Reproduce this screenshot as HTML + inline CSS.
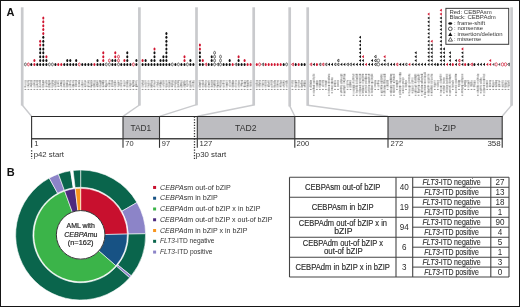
<!DOCTYPE html>
<html><head><meta charset="utf-8"><style>
html,body{margin:0;padding:0;background:#fff;}
svg{display:block;will-change:transform;}
text{font-family:"Liberation Sans",sans-serif;}
</style></head><body>
<svg width="520" height="307" viewBox="0 0 520 307" xmlns="http://www.w3.org/2000/svg">
<rect x="0" y="0" width="520" height="307" fill="#fff"/>
<line x1="22.2" y1="7.3" x2="22.2" y2="105.6" stroke="#c9cacd" stroke-width="2.7"/>
<line x1="22.2" y1="105.0" x2="31.5" y2="116.3" stroke="#c9cacd" stroke-width="1.4"/>
<line x1="139.4" y1="7.3" x2="139.4" y2="105.6" stroke="#c9cacd" stroke-width="2.7"/>
<line x1="139.4" y1="105.0" x2="123" y2="116.3" stroke="#c9cacd" stroke-width="1.4"/>
<line x1="196.5" y1="7.3" x2="196.5" y2="105.3" stroke="#c9cacd" stroke-width="2.7"/>
<line x1="196.5" y1="104.7" x2="159.5" y2="116.3" stroke="#c9cacd" stroke-width="1.4"/>
<line x1="253.7" y1="7.3" x2="253.7" y2="105.6" stroke="#c9cacd" stroke-width="2.7"/>
<line x1="253.7" y1="105.0" x2="197.5" y2="116.3" stroke="#c9cacd" stroke-width="1.4"/>
<line x1="289.7" y1="7.3" x2="289.7" y2="106.5" stroke="#c9cacd" stroke-width="2.7"/>
<line x1="289.7" y1="105.9" x2="294.8" y2="116.3" stroke="#c9cacd" stroke-width="1.4"/>
<line x1="307.7" y1="7.3" x2="307.7" y2="105.8" stroke="#c9cacd" stroke-width="2.7"/>
<line x1="307.7" y1="105.2" x2="388" y2="116.3" stroke="#c9cacd" stroke-width="1.4"/>
<line x1="511.6" y1="7.3" x2="511.6" y2="105.7" stroke="#c9cacd" stroke-width="2.7"/>
<line x1="511.6" y1="105.10000000000001" x2="502.2" y2="116.3" stroke="#c9cacd" stroke-width="1.4"/>
<ellipse cx="25.4" cy="64.40" rx="0.95" ry="1.45" fill="none" stroke="#444" stroke-width="0.75"/>
<ellipse cx="28.4" cy="64.40" rx="0.95" ry="1.45" fill="none" stroke="#d0142f" stroke-width="0.75"/>
<ellipse cx="31.3" cy="64.40" rx="1.02" ry="1.5" fill="#111"/>
<ellipse cx="34.4" cy="64.40" rx="1.02" ry="1.5" fill="#d0142f"/>
<ellipse cx="34.4" cy="60.53" rx="1.02" ry="1.5" fill="#d0142f"/>
<ellipse cx="37.3" cy="64.40" rx="1.02" ry="1.5" fill="#111"/>
<ellipse cx="40.2" cy="64.40" rx="1.02" ry="1.5" fill="#111"/>
<ellipse cx="40.2" cy="60.53" rx="1.02" ry="1.5" fill="#111"/>
<ellipse cx="40.2" cy="56.66" rx="1.02" ry="1.5" fill="#111"/>
<ellipse cx="40.2" cy="52.79" rx="1.02" ry="1.5" fill="#111"/>
<ellipse cx="40.2" cy="48.92" rx="1.02" ry="1.5" fill="#111"/>
<ellipse cx="40.2" cy="45.05" rx="1.02" ry="1.5" fill="#d0142f"/>
<ellipse cx="40.2" cy="41.18" rx="1.02" ry="1.5" fill="#d0142f"/>
<ellipse cx="43.3" cy="64.40" rx="1.02" ry="1.5" fill="#111"/>
<ellipse cx="43.3" cy="60.53" rx="1.02" ry="1.5" fill="#111"/>
<ellipse cx="43.3" cy="56.66" rx="1.02" ry="1.5" fill="#111"/>
<ellipse cx="43.3" cy="52.79" rx="1.02" ry="1.5" fill="#111"/>
<ellipse cx="43.3" cy="48.92" rx="1.02" ry="1.5" fill="#111"/>
<ellipse cx="43.3" cy="45.05" rx="1.02" ry="1.5" fill="#111"/>
<ellipse cx="43.3" cy="41.18" rx="1.02" ry="1.5" fill="#111"/>
<ellipse cx="43.3" cy="37.31" rx="1.02" ry="1.5" fill="#111"/>
<ellipse cx="43.3" cy="33.44" rx="1.02" ry="1.5" fill="#d0142f"/>
<ellipse cx="43.3" cy="29.57" rx="1.02" ry="1.5" fill="#d0142f"/>
<ellipse cx="43.3" cy="25.70" rx="1.02" ry="1.5" fill="#d0142f"/>
<ellipse cx="43.3" cy="21.83" rx="1.02" ry="1.5" fill="#d0142f"/>
<ellipse cx="43.3" cy="17.96" rx="1.02" ry="1.5" fill="#d0142f"/>
<ellipse cx="46.4" cy="64.40" rx="1.02" ry="1.5" fill="#111"/>
<ellipse cx="46.4" cy="60.53" rx="1.02" ry="1.5" fill="#111"/>
<ellipse cx="46.4" cy="56.66" rx="1.02" ry="1.5" fill="#d0142f"/>
<ellipse cx="49.4" cy="64.40" rx="0.95" ry="1.45" fill="none" stroke="#444" stroke-width="0.75"/>
<ellipse cx="52.4" cy="64.40" rx="0.95" ry="1.45" fill="none" stroke="#444" stroke-width="0.75"/>
<ellipse cx="55.4" cy="64.40" rx="1.02" ry="1.5" fill="#111"/>
<ellipse cx="58.3" cy="64.40" rx="1.02" ry="1.5" fill="#d0142f"/>
<ellipse cx="61.3" cy="64.40" rx="1.02" ry="1.5" fill="#d0142f"/>
<ellipse cx="64.3" cy="64.40" rx="1.02" ry="1.5" fill="#111"/>
<ellipse cx="67.3" cy="64.40" rx="1.02" ry="1.5" fill="#111"/>
<ellipse cx="67.3" cy="60.53" rx="1.02" ry="1.5" fill="#111"/>
<ellipse cx="70.3" cy="64.40" rx="1.02" ry="1.5" fill="#111"/>
<ellipse cx="70.3" cy="60.53" rx="1.02" ry="1.5" fill="#111"/>
<ellipse cx="73.3" cy="64.40" rx="1.02" ry="1.5" fill="#111"/>
<ellipse cx="76.2" cy="64.40" rx="1.02" ry="1.5" fill="#111"/>
<ellipse cx="76.2" cy="60.53" rx="1.02" ry="1.5" fill="#111"/>
<ellipse cx="79.3" cy="64.40" rx="0.95" ry="1.45" fill="none" stroke="#d0142f" stroke-width="0.75"/>
<ellipse cx="82.3" cy="64.40" rx="1.02" ry="1.5" fill="#111"/>
<ellipse cx="85.3" cy="64.40" rx="1.02" ry="1.5" fill="#111"/>
<ellipse cx="88.4" cy="64.40" rx="1.02" ry="1.5" fill="#111"/>
<ellipse cx="91.4" cy="64.40" rx="1.02" ry="1.5" fill="#111"/>
<ellipse cx="94.4" cy="64.40" rx="1.02" ry="1.5" fill="#d0142f"/>
<ellipse cx="97.5" cy="64.40" rx="1.02" ry="1.5" fill="#111"/>
<ellipse cx="97.5" cy="60.53" rx="1.02" ry="1.5" fill="#111"/>
<ellipse cx="100.4" cy="64.40" rx="1.02" ry="1.5" fill="#111"/>
<ellipse cx="103.3" cy="64.40" rx="1.02" ry="1.5" fill="#111"/>
<ellipse cx="103.3" cy="60.53" rx="1.02" ry="1.5" fill="#d0142f"/>
<ellipse cx="103.3" cy="56.66" rx="1.02" ry="1.5" fill="#d0142f"/>
<ellipse cx="103.3" cy="52.79" rx="1.02" ry="1.5" fill="#d0142f"/>
<ellipse cx="106.3" cy="64.40" rx="0.95" ry="1.45" fill="none" stroke="#444" stroke-width="0.75"/>
<ellipse cx="109.4" cy="64.40" rx="0.95" ry="1.45" fill="none" stroke="#444" stroke-width="0.75"/>
<ellipse cx="109.4" cy="60.53" rx="0.95" ry="1.45" fill="none" stroke="#d0142f" stroke-width="0.75"/>
<ellipse cx="112.4" cy="64.40" rx="1.02" ry="1.5" fill="#111"/>
<ellipse cx="112.4" cy="60.53" rx="1.02" ry="1.5" fill="#111"/>
<ellipse cx="115.3" cy="64.40" rx="1.02" ry="1.5" fill="#111"/>
<ellipse cx="115.3" cy="60.53" rx="1.02" ry="1.5" fill="#111"/>
<ellipse cx="115.3" cy="56.66" rx="1.02" ry="1.5" fill="#d0142f"/>
<ellipse cx="115.3" cy="52.79" rx="1.02" ry="1.5" fill="#d0142f"/>
<ellipse cx="118.5" cy="64.40" rx="0.95" ry="1.45" fill="none" stroke="#444" stroke-width="0.75"/>
<ellipse cx="118.5" cy="60.53" rx="0.95" ry="1.45" fill="none" stroke="#d0142f" stroke-width="0.75"/>
<ellipse cx="118.5" cy="56.66" rx="0.95" ry="1.45" fill="none" stroke="#d0142f" stroke-width="0.75"/>
<ellipse cx="121.3" cy="64.40" rx="1.02" ry="1.5" fill="#111"/>
<ellipse cx="124.4" cy="64.40" rx="1.02" ry="1.5" fill="#111"/>
<ellipse cx="124.4" cy="60.53" rx="1.02" ry="1.5" fill="#d0142f"/>
<ellipse cx="127.3" cy="64.40" rx="1.02" ry="1.5" fill="#111"/>
<ellipse cx="127.3" cy="60.53" rx="1.02" ry="1.5" fill="#111"/>
<ellipse cx="127.3" cy="56.66" rx="1.02" ry="1.5" fill="#111"/>
<ellipse cx="127.3" cy="52.79" rx="1.02" ry="1.5" fill="#111"/>
<ellipse cx="130.4" cy="64.40" rx="1.02" ry="1.5" fill="#111"/>
<ellipse cx="133.4" cy="64.40" rx="0.95" ry="1.45" fill="none" stroke="#d0142f" stroke-width="0.75"/>
<ellipse cx="136.4" cy="64.40" rx="1.02" ry="1.5" fill="#111"/>
<ellipse cx="136.4" cy="60.53" rx="1.02" ry="1.5" fill="#111"/>
<ellipse cx="142.6" cy="64.40" rx="1.02" ry="1.5" fill="#111"/>
<ellipse cx="142.6" cy="60.53" rx="1.02" ry="1.5" fill="#d0142f"/>
<ellipse cx="145.6" cy="64.40" rx="1.02" ry="1.5" fill="#111"/>
<ellipse cx="145.6" cy="60.53" rx="1.02" ry="1.5" fill="#111"/>
<ellipse cx="148.5" cy="64.40" rx="1.02" ry="1.5" fill="#111"/>
<ellipse cx="151.5" cy="64.40" rx="1.02" ry="1.5" fill="#111"/>
<ellipse cx="151.5" cy="60.53" rx="1.02" ry="1.5" fill="#111"/>
<ellipse cx="154.5" cy="64.40" rx="1.02" ry="1.5" fill="#111"/>
<ellipse cx="154.5" cy="60.53" rx="1.02" ry="1.5" fill="#111"/>
<ellipse cx="154.5" cy="56.66" rx="1.02" ry="1.5" fill="#111"/>
<ellipse cx="154.5" cy="52.79" rx="1.02" ry="1.5" fill="#111"/>
<ellipse cx="154.5" cy="48.92" rx="1.02" ry="1.5" fill="#d0142f"/>
<ellipse cx="157.6" cy="64.40" rx="1.02" ry="1.5" fill="#111"/>
<ellipse cx="160.5" cy="64.40" rx="1.02" ry="1.5" fill="#111"/>
<ellipse cx="160.5" cy="60.53" rx="1.02" ry="1.5" fill="#111"/>
<ellipse cx="163.4" cy="64.40" rx="1.02" ry="1.5" fill="#111"/>
<ellipse cx="163.4" cy="60.53" rx="1.02" ry="1.5" fill="#111"/>
<ellipse cx="163.4" cy="56.66" rx="1.02" ry="1.5" fill="#111"/>
<ellipse cx="166.4" cy="64.40" rx="1.02" ry="1.5" fill="#111"/>
<ellipse cx="166.4" cy="60.53" rx="1.02" ry="1.5" fill="#111"/>
<ellipse cx="166.4" cy="56.66" rx="1.02" ry="1.5" fill="#111"/>
<ellipse cx="166.4" cy="52.79" rx="1.02" ry="1.5" fill="#111"/>
<ellipse cx="166.4" cy="48.92" rx="1.02" ry="1.5" fill="#111"/>
<ellipse cx="166.4" cy="45.05" rx="1.02" ry="1.5" fill="#111"/>
<ellipse cx="166.4" cy="41.18" rx="1.02" ry="1.5" fill="#111"/>
<ellipse cx="166.4" cy="37.31" rx="1.02" ry="1.5" fill="#111"/>
<ellipse cx="166.4" cy="33.44" rx="1.02" ry="1.5" fill="#111"/>
<ellipse cx="169.4" cy="64.40" rx="1.02" ry="1.5" fill="#111"/>
<ellipse cx="172.3" cy="64.40" rx="0.95" ry="1.45" fill="none" stroke="#444" stroke-width="0.75"/>
<ellipse cx="175.4" cy="64.40" rx="1.02" ry="1.5" fill="#111"/>
<ellipse cx="178.4" cy="64.40" rx="0.95" ry="1.45" fill="none" stroke="#444" stroke-width="0.75"/>
<ellipse cx="181.4" cy="64.40" rx="1.02" ry="1.5" fill="#111"/>
<ellipse cx="184.5" cy="64.40" rx="1.02" ry="1.5" fill="#111"/>
<ellipse cx="184.5" cy="60.53" rx="1.02" ry="1.5" fill="#d0142f"/>
<ellipse cx="184.5" cy="56.66" rx="1.02" ry="1.5" fill="#d0142f"/>
<ellipse cx="187.4" cy="64.40" rx="0.95" ry="1.45" fill="none" stroke="#444" stroke-width="0.75"/>
<ellipse cx="190.4" cy="64.40" rx="1.02" ry="1.5" fill="#111"/>
<ellipse cx="190.4" cy="60.53" rx="1.02" ry="1.5" fill="#111"/>
<ellipse cx="193.4" cy="64.40" rx="1.02" ry="1.5" fill="#111"/>
<ellipse cx="199.9" cy="64.40" rx="1.02" ry="1.5" fill="#111"/>
<ellipse cx="199.9" cy="60.53" rx="1.02" ry="1.5" fill="#111"/>
<ellipse cx="199.9" cy="56.66" rx="1.02" ry="1.5" fill="#111"/>
<ellipse cx="199.9" cy="52.79" rx="1.02" ry="1.5" fill="#111"/>
<ellipse cx="199.9" cy="48.92" rx="1.02" ry="1.5" fill="#d0142f"/>
<ellipse cx="199.9" cy="45.05" rx="1.02" ry="1.5" fill="#d0142f"/>
<ellipse cx="202.8" cy="64.40" rx="1.02" ry="1.5" fill="#111"/>
<ellipse cx="202.8" cy="60.53" rx="1.02" ry="1.5" fill="#d0142f"/>
<path d="M204.70,64.40 L206.60,63.00 L206.60,65.80Z" fill="none" stroke="#d0142f" stroke-width="0.8"/>
<ellipse cx="208.7" cy="64.40" rx="1.02" ry="1.5" fill="#111"/>
<ellipse cx="211.7" cy="64.40" rx="1.02" ry="1.5" fill="#111"/>
<ellipse cx="211.7" cy="60.53" rx="1.02" ry="1.5" fill="#111"/>
<ellipse cx="211.7" cy="56.66" rx="1.02" ry="1.5" fill="#111"/>
<ellipse cx="214.6" cy="64.40" rx="0.95" ry="1.45" fill="none" stroke="#444" stroke-width="0.75"/>
<ellipse cx="214.6" cy="60.53" rx="0.95" ry="1.45" fill="none" stroke="#444" stroke-width="0.75"/>
<ellipse cx="214.6" cy="56.66" rx="0.95" ry="1.45" fill="none" stroke="#444" stroke-width="0.75"/>
<ellipse cx="214.6" cy="52.79" rx="0.95" ry="1.45" fill="none" stroke="#444" stroke-width="0.75"/>
<path d="M216.60,64.40 L218.50,63.00 L218.50,65.80Z" fill="none" stroke="#3a3a3a" stroke-width="0.8"/>
<ellipse cx="220.5" cy="64.40" rx="0.95" ry="1.45" fill="none" stroke="#444" stroke-width="0.75"/>
<ellipse cx="220.5" cy="60.53" rx="0.95" ry="1.45" fill="none" stroke="#444" stroke-width="0.75"/>
<ellipse cx="220.5" cy="56.66" rx="0.95" ry="1.45" fill="none" stroke="#444" stroke-width="0.75"/>
<ellipse cx="223.6" cy="64.40" rx="1.02" ry="1.5" fill="#111"/>
<ellipse cx="226.6" cy="64.40" rx="1.02" ry="1.5" fill="#111"/>
<ellipse cx="229.7" cy="64.40" rx="1.02" ry="1.5" fill="#111"/>
<ellipse cx="229.7" cy="60.53" rx="1.02" ry="1.5" fill="#111"/>
<ellipse cx="232.7" cy="64.40" rx="1.02" ry="1.5" fill="#d0142f"/>
<path d="M234.70,64.40 L236.60,63.00 L236.60,65.80Z" fill="none" stroke="#3a3a3a" stroke-width="0.8"/>
<ellipse cx="238.6" cy="64.40" rx="1.02" ry="1.5" fill="#111"/>
<ellipse cx="238.6" cy="60.53" rx="1.02" ry="1.5" fill="#111"/>
<ellipse cx="238.6" cy="56.66" rx="1.02" ry="1.5" fill="#d0142f"/>
<ellipse cx="241.6" cy="64.40" rx="1.02" ry="1.5" fill="#111"/>
<ellipse cx="244.6" cy="64.40" rx="1.02" ry="1.5" fill="#111"/>
<ellipse cx="244.6" cy="60.53" rx="1.02" ry="1.5" fill="#d0142f"/>
<ellipse cx="247.6" cy="64.40" rx="1.02" ry="1.5" fill="#d0142f"/>
<ellipse cx="250.6" cy="64.40" rx="1.02" ry="1.5" fill="#d0142f"/>
<ellipse cx="256.8" cy="64.40" rx="1.02" ry="1.5" fill="#d0142f"/>
<ellipse cx="259.6" cy="64.40" rx="0.95" ry="1.45" fill="none" stroke="#d0142f" stroke-width="0.75"/>
<path d="M261.70,64.40 L263.60,63.00 L263.60,65.80Z" fill="none" stroke="#3a3a3a" stroke-width="0.8"/>
<ellipse cx="265.7" cy="64.40" rx="1.02" ry="1.5" fill="#d0142f"/>
<ellipse cx="268.7" cy="64.40" rx="1.02" ry="1.5" fill="#d0142f"/>
<ellipse cx="271.7" cy="64.40" rx="1.02" ry="1.5" fill="#d0142f"/>
<ellipse cx="274.7" cy="64.40" rx="1.02" ry="1.5" fill="#d0142f"/>
<ellipse cx="277.7" cy="64.40" rx="1.02" ry="1.5" fill="#d0142f"/>
<ellipse cx="280.7" cy="64.40" rx="1.02" ry="1.5" fill="#d0142f"/>
<ellipse cx="283.7" cy="64.40" rx="1.02" ry="1.5" fill="#111"/>
<ellipse cx="286.6" cy="64.40" rx="0.95" ry="1.45" fill="none" stroke="#444" stroke-width="0.75"/>
<path d="M291.50,64.40 L293.40,63.00 L293.40,65.80Z" fill="none" stroke="#d0142f" stroke-width="0.8"/>
<ellipse cx="295.7" cy="64.40" rx="1.02" ry="1.5" fill="#111"/>
<ellipse cx="298.7" cy="64.40" rx="1.02" ry="1.5" fill="#d0142f"/>
<ellipse cx="301.7" cy="64.40" rx="1.02" ry="1.5" fill="#111"/>
<ellipse cx="304.6" cy="64.40" rx="1.02" ry="1.5" fill="#111"/>
<path d="M309.80,64.40 L311.70,63.00 L311.70,65.80Z" fill="none" stroke="#d0142f" stroke-width="0.8"/>
<path d="M312.65,64.40 L314.80,62.85 L314.80,65.95Z" fill="#111"/>
<ellipse cx="316.9" cy="64.40" rx="1.02" ry="1.5" fill="#d0142f"/>
<path d="M318.90,64.40 L320.80,63.00 L320.80,65.80Z" fill="none" stroke="#3a3a3a" stroke-width="0.8"/>
<path d="M321.90,64.40 L323.80,63.00 L323.80,65.80Z" fill="none" stroke="#d0142f" stroke-width="0.8"/>
<path d="M324.90,64.40 L326.80,63.00 L326.80,65.80Z" fill="none" stroke="#3a3a3a" stroke-width="0.8"/>
<path d="M327.85,64.40 L330.00,62.85 L330.00,65.95Z" fill="#111"/>
<path d="M330.85,64.40 L333.00,62.85 L333.00,65.95Z" fill="#111"/>
<path d="M334.00,64.40 L335.90,63.00 L335.90,65.80Z" fill="none" stroke="#3a3a3a" stroke-width="0.8"/>
<path d="M337.00,64.40 L338.90,63.00 L338.90,65.80Z" fill="none" stroke="#3a3a3a" stroke-width="0.8"/>
<path d="M337.00,60.53 L338.90,59.13 L338.90,61.93Z" fill="none" stroke="#3a3a3a" stroke-width="0.8"/>
<path d="M340.15,64.40 L342.30,62.85 L342.30,65.95Z" fill="#111"/>
<path d="M343.15,64.40 L345.30,62.85 L345.30,65.95Z" fill="#111"/>
<path d="M346.50,64.40 L348.40,63.00 L348.40,65.80Z" fill="none" stroke="#3a3a3a" stroke-width="0.8"/>
<path d="M349.50,64.40 L351.40,63.00 L351.40,65.80Z" fill="none" stroke="#3a3a3a" stroke-width="0.8"/>
<path d="M352.35,64.40 L354.50,62.85 L354.50,65.95Z" fill="#111"/>
<path d="M355.65,64.40 L357.80,62.85 L357.80,65.95Z" fill="#111"/>
<path d="M358.85,64.40 L361.00,62.85 L361.00,65.95Z" fill="#111"/>
<path d="M358.85,60.53 L361.00,58.98 L361.00,62.08Z" fill="#111"/>
<path d="M358.85,56.66 L361.00,55.11 L361.00,58.21Z" fill="#111"/>
<path d="M358.85,52.79 L361.00,51.24 L361.00,54.34Z" fill="#111"/>
<path d="M358.85,48.92 L361.00,47.37 L361.00,50.47Z" fill="#111"/>
<path d="M358.85,45.05 L361.00,43.50 L361.00,46.60Z" fill="#111"/>
<path d="M358.85,41.18 L361.00,39.63 L361.00,42.73Z" fill="#111"/>
<path d="M358.85,37.31 L361.00,35.76 L361.00,38.86Z" fill="#111"/>
<path d="M361.75,64.40 L363.90,62.85 L363.90,65.95Z" fill="#111"/>
<path d="M361.75,60.53 L363.90,58.98 L363.90,62.08Z" fill="#111"/>
<path d="M361.75,56.66 L363.90,55.11 L363.90,58.21Z" fill="#d0142f"/>
<path d="M364.75,64.40 L366.90,62.85 L366.90,65.95Z" fill="#d0142f"/>
<path d="M367.85,64.40 L370.00,62.85 L370.00,65.95Z" fill="#111"/>
<path d="M370.85,64.40 L373.00,62.85 L373.00,65.95Z" fill="#111"/>
<path d="M370.85,60.53 L373.00,58.98 L373.00,62.08Z" fill="#111"/>
<path d="M374.20,64.40 L376.10,63.00 L376.10,65.80Z" fill="none" stroke="#3a3a3a" stroke-width="0.8"/>
<path d="M374.20,60.53 L376.10,59.13 L376.10,61.93Z" fill="none" stroke="#3a3a3a" stroke-width="0.8"/>
<path d="M374.20,56.66 L376.10,55.26 L376.10,58.06Z" fill="none" stroke="#3a3a3a" stroke-width="0.8"/>
<ellipse cx="378.3" cy="64.40" rx="1.35" ry="1.55" fill="none" stroke="#444" stroke-width="0.7"/>
<ellipse cx="378.3" cy="60.53" rx="1.35" ry="1.55" fill="none" stroke="#444" stroke-width="0.7"/>
<path d="M380.45,64.40 L382.60,62.85 L382.60,65.95Z" fill="#111"/>
<path d="M383.35,64.40 L385.50,62.85 L385.50,65.95Z" fill="#111"/>
<path d="M383.35,60.53 L385.50,58.98 L385.50,62.08Z" fill="#111"/>
<path d="M383.35,56.66 L385.50,55.11 L385.50,58.21Z" fill="#d0142f"/>
<path d="M386.60,64.40 L388.50,63.00 L388.50,65.80Z" fill="none" stroke="#3a3a3a" stroke-width="0.8"/>
<path d="M389.85,64.40 L392.00,62.85 L392.00,65.95Z" fill="#111"/>
<path d="M392.75,64.40 L394.90,62.85 L394.90,65.95Z" fill="#111"/>
<path d="M395.90,64.40 L397.80,63.00 L397.80,65.80Z" fill="none" stroke="#d0142f" stroke-width="0.8"/>
<path d="M398.95,64.40 L401.10,62.85 L401.10,65.95Z" fill="#111"/>
<path d="M401.95,64.40 L404.10,62.85 L404.10,65.95Z" fill="#111"/>
<path d="M405.00,64.40 L406.90,63.00 L406.90,65.80Z" fill="none" stroke="#3a3a3a" stroke-width="0.8"/>
<path d="M408.15,64.40 L410.30,62.85 L410.30,65.95Z" fill="#d0142f"/>
<path d="M411.35,64.40 L413.50,62.85 L413.50,65.95Z" fill="#111"/>
<path d="M414.45,64.40 L416.60,62.85 L416.60,65.95Z" fill="#111"/>
<path d="M414.45,60.53 L416.60,58.98 L416.60,62.08Z" fill="#111"/>
<path d="M414.45,56.66 L416.60,55.11 L416.60,58.21Z" fill="#111"/>
<path d="M414.45,52.79 L416.60,51.24 L416.60,54.34Z" fill="#111"/>
<path d="M417.45,64.40 L419.60,62.85 L419.60,65.95Z" fill="#111"/>
<path d="M420.65,64.40 L422.80,62.85 L422.80,65.95Z" fill="#111"/>
<path d="M423.85,64.40 L426.00,62.85 L426.00,65.95Z" fill="#111"/>
<path d="M427.35,64.40 L429.50,62.85 L429.50,65.95Z" fill="#111"/>
<path d="M427.35,60.53 L429.50,58.98 L429.50,62.08Z" fill="#111"/>
<path d="M427.35,56.66 L429.50,55.11 L429.50,58.21Z" fill="#111"/>
<path d="M427.35,52.79 L429.50,51.24 L429.50,54.34Z" fill="#111"/>
<path d="M427.35,48.92 L429.50,47.37 L429.50,50.47Z" fill="#111"/>
<path d="M427.35,45.05 L429.50,43.50 L429.50,46.60Z" fill="#111"/>
<path d="M427.35,41.18 L429.50,39.63 L429.50,42.73Z" fill="#111"/>
<path d="M427.35,37.31 L429.50,35.76 L429.50,38.86Z" fill="#111"/>
<path d="M427.35,33.44 L429.50,31.89 L429.50,34.99Z" fill="#111"/>
<path d="M427.35,29.57 L429.50,28.02 L429.50,31.12Z" fill="#111"/>
<path d="M427.35,25.70 L429.50,24.15 L429.50,27.25Z" fill="#111"/>
<path d="M427.35,21.83 L429.50,20.28 L429.50,23.38Z" fill="#111"/>
<path d="M427.35,17.96 L429.50,16.41 L429.50,19.51Z" fill="#111"/>
<path d="M427.35,14.09 L429.50,12.54 L429.50,15.64Z" fill="#d0142f"/>
<path d="M430.45,64.40 L432.60,62.85 L432.60,65.95Z" fill="#111"/>
<path d="M430.45,60.53 L432.60,58.98 L432.60,62.08Z" fill="#111"/>
<path d="M430.45,56.66 L432.60,55.11 L432.60,58.21Z" fill="#111"/>
<path d="M430.45,52.79 L432.60,51.24 L432.60,54.34Z" fill="#111"/>
<path d="M430.45,48.92 L432.60,47.37 L432.60,50.47Z" fill="#111"/>
<path d="M430.45,45.05 L432.60,43.50 L432.60,46.60Z" fill="#111"/>
<path d="M430.45,41.18 L432.60,39.63 L432.60,42.73Z" fill="#d0142f"/>
<path d="M433.65,64.40 L435.80,62.85 L435.80,65.95Z" fill="#111"/>
<ellipse cx="437.8" cy="64.40" rx="1.02" ry="1.5" fill="#111"/>
<path d="M439.65,64.40 L441.80,62.85 L441.80,65.95Z" fill="#111"/>
<path d="M439.65,60.53 L441.80,58.98 L441.80,62.08Z" fill="#111"/>
<path d="M439.65,56.66 L441.80,55.11 L441.80,58.21Z" fill="#111"/>
<path d="M439.65,52.79 L441.80,51.24 L441.80,54.34Z" fill="#111"/>
<path d="M439.65,48.92 L441.80,47.37 L441.80,50.47Z" fill="#111"/>
<path d="M439.65,45.05 L441.80,43.50 L441.80,46.60Z" fill="#111"/>
<path d="M439.65,41.18 L441.80,39.63 L441.80,42.73Z" fill="#111"/>
<path d="M439.65,37.31 L441.80,35.76 L441.80,38.86Z" fill="#111"/>
<path d="M439.65,33.44 L441.80,31.89 L441.80,34.99Z" fill="#111"/>
<path d="M439.65,29.57 L441.80,28.02 L441.80,31.12Z" fill="#111"/>
<path d="M439.65,25.70 L441.80,24.15 L441.80,27.25Z" fill="#111"/>
<path d="M439.65,21.83 L441.80,20.28 L441.80,23.38Z" fill="#111"/>
<path d="M439.65,17.96 L441.80,16.41 L441.80,19.51Z" fill="#111"/>
<path d="M439.65,14.09 L441.80,12.54 L441.80,15.64Z" fill="#d0142f"/>
<path d="M439.65,10.22 L441.80,8.67 L441.80,11.77Z" fill="#d0142f"/>
<path d="M442.75,64.40 L444.90,62.85 L444.90,65.95Z" fill="#111"/>
<path d="M442.75,60.53 L444.90,58.98 L444.90,62.08Z" fill="#111"/>
<path d="M442.75,56.66 L444.90,55.11 L444.90,58.21Z" fill="#111"/>
<path d="M442.75,52.79 L444.90,51.24 L444.90,54.34Z" fill="#111"/>
<path d="M442.75,48.92 L444.90,47.37 L444.90,50.47Z" fill="#111"/>
<path d="M445.85,64.40 L448.00,62.85 L448.00,65.95Z" fill="#d0142f"/>
<path d="M448.75,64.40 L450.90,62.85 L450.90,65.95Z" fill="#111"/>
<path d="M448.75,60.53 L450.90,58.98 L450.90,62.08Z" fill="#111"/>
<path d="M448.75,56.66 L450.90,55.11 L450.90,58.21Z" fill="#111"/>
<path d="M448.75,52.79 L450.90,51.24 L450.90,54.34Z" fill="#111"/>
<ellipse cx="452.8" cy="64.40" rx="1.02" ry="1.5" fill="#d0142f"/>
<path d="M454.75,64.40 L456.90,62.85 L456.90,65.95Z" fill="#111"/>
<path d="M454.75,60.53 L456.90,58.98 L456.90,62.08Z" fill="#111"/>
<path d="M458.00,64.40 L459.90,63.00 L459.90,65.80Z" fill="none" stroke="#d0142f" stroke-width="0.8"/>
<path d="M458.00,60.53 L459.90,59.13 L459.90,61.93Z" fill="none" stroke="#d0142f" stroke-width="0.8"/>
<path d="M461.15,64.40 L463.30,62.85 L463.30,65.95Z" fill="#111"/>
<path d="M461.15,60.53 L463.30,58.98 L463.30,62.08Z" fill="#111"/>
<path d="M461.15,56.66 L463.30,55.11 L463.30,58.21Z" fill="#111"/>
<path d="M461.15,52.79 L463.30,51.24 L463.30,54.34Z" fill="#111"/>
<path d="M461.15,48.92 L463.30,47.37 L463.30,50.47Z" fill="#d0142f"/>
<ellipse cx="465.2" cy="64.40" rx="1.02" ry="1.5" fill="#d0142f"/>
<ellipse cx="468.4" cy="64.40" rx="1.02" ry="1.5" fill="#111"/>
<path d="M470.50,64.40 L472.40,63.00 L472.40,65.80Z" fill="none" stroke="#d0142f" stroke-width="0.8"/>
<ellipse cx="474.4" cy="64.40" rx="1.02" ry="1.5" fill="#111"/>
<path d="M476.75,64.40 L478.90,62.85 L478.90,65.95Z" fill="#111"/>
<path d="M479.65,64.40 L481.80,62.85 L481.80,65.95Z" fill="#111"/>
<path d="M482.85,64.40 L485.00,62.85 L485.00,65.95Z" fill="#111"/>
<path d="M486.05,64.40 L488.20,62.85 L488.20,65.95Z" fill="#d0142f"/>
<path d="M488.95,64.40 L491.10,62.85 L491.10,65.95Z" fill="#d0142f"/>
<path d="M488.95,60.53 L491.10,58.98 L491.10,62.08Z" fill="#d0142f"/>
<path d="M492.15,64.40 L494.30,62.85 L494.30,65.95Z" fill="#555"/>
<ellipse cx="496.2" cy="64.40" rx="1.15" ry="1.7" fill="none" stroke="#d0142f" stroke-opacity="0.8" stroke-width="0.8"/>
<path d="M498.05,64.40 L500.20,62.85 L500.20,65.95Z" fill="#555"/>
<ellipse cx="502.5" cy="64.40" rx="1.15" ry="1.7" fill="none" stroke="#d0142f" stroke-opacity="0.8" stroke-width="0.8"/>
<ellipse cx="505.5" cy="64.40" rx="1.15" ry="1.7" fill="none" stroke="#d0142f" stroke-opacity="0.8" stroke-width="0.8"/>
<path d="M507.50,64.40 L509.40,63.00 L509.40,65.80Z" fill="none" stroke="#3a3a3a" stroke-width="0.8"/>
<rect x="24.52" y="80.20" width="2.16" height="1.20" fill="#959595" fill-opacity="0.75"/><rect x="24.52" y="81.55" width="2.16" height="0.80" fill="#959595" fill-opacity="0.6"/><rect x="24.44" y="82.50" width="1.92" height="1.00" fill="#959595" fill-opacity="0.6"/><rect x="24.64" y="83.75" width="1.92" height="0.80" fill="#959595" fill-opacity="0.75"/><rect x="24.64" y="84.80" width="1.92" height="0.80" fill="#959595" fill-opacity="0.6"/><rect x="24.24" y="85.95" width="1.92" height="0.80" fill="#959595" fill-opacity="1.0"/><rect x="24.12" y="86.90" width="2.16" height="0.50" fill="#959595" fill-opacity="0.9"/>
<rect x="24.55" y="88.90" width="1.7" height="1.1" fill="#9a9a9a"/>
<rect x="27.40" y="80.20" width="2.40" height="0.80" fill="#959595" fill-opacity="0.9"/><rect x="27.12" y="81.15" width="2.16" height="0.80" fill="#959595" fill-opacity="0.75"/><rect x="27.00" y="82.30" width="2.40" height="0.80" fill="#959595" fill-opacity="0.6"/><rect x="27.52" y="83.35" width="2.16" height="1.40" fill="#959595" fill-opacity="0.9"/><rect x="27.24" y="85.00" width="1.92" height="1.20" fill="#959595" fill-opacity="0.9"/><rect x="27.20" y="86.55" width="2.40" height="0.85" fill="#959595" fill-opacity="0.6"/>
<rect x="27.55" y="88.90" width="1.7" height="1.1" fill="#9a9a9a"/>
<rect x="30.10" y="80.20" width="2.40" height="1.40" fill="#959595" fill-opacity="0.9"/><rect x="30.10" y="81.85" width="2.40" height="0.80" fill="#959595" fill-opacity="0.6"/><rect x="30.22" y="82.80" width="2.16" height="1.20" fill="#959595" fill-opacity="0.75"/><rect x="30.42" y="84.15" width="2.16" height="0.80" fill="#959595" fill-opacity="0.9"/><rect x="30.14" y="85.20" width="1.92" height="1.40" fill="#959595" fill-opacity="1.0"/><rect x="30.54" y="86.85" width="1.92" height="0.55" fill="#959595" fill-opacity="0.6"/>
<rect x="30.45" y="88.90" width="1.7" height="1.1" fill="#9a9a9a"/>
<rect x="33.52" y="80.20" width="2.16" height="1.20" fill="#959595" fill-opacity="1.0"/><rect x="33.32" y="81.65" width="2.16" height="1.20" fill="#959595" fill-opacity="0.6"/><rect x="33.24" y="83.00" width="1.92" height="0.80" fill="#959595" fill-opacity="1.0"/><rect x="33.32" y="84.05" width="2.16" height="1.00" fill="#959595" fill-opacity="0.75"/><rect x="33.32" y="85.30" width="2.16" height="0.80" fill="#959595" fill-opacity="0.75"/><rect x="33.52" y="86.45" width="2.16" height="0.95" fill="#959595" fill-opacity="0.75"/>
<rect x="33.55" y="88.90" width="1.7" height="1.1" fill="#9a9a9a"/>
<rect x="36.10" y="80.20" width="2.40" height="1.40" fill="#959595" fill-opacity="0.9"/><rect x="36.14" y="81.75" width="1.92" height="1.00" fill="#959595" fill-opacity="0.6"/><rect x="36.42" y="82.90" width="2.16" height="1.00" fill="#959595" fill-opacity="0.6"/><rect x="36.14" y="84.05" width="1.92" height="1.20" fill="#959595" fill-opacity="0.9"/><rect x="36.54" y="85.50" width="1.92" height="1.20" fill="#959595" fill-opacity="0.9"/><rect x="36.30" y="87.05" width="2.40" height="0.35" fill="#959595" fill-opacity="1.0"/>
<rect x="36.45" y="88.90" width="1.7" height="1.1" fill="#9a9a9a"/>
<rect x="38.92" y="80.20" width="2.16" height="1.40" fill="#959595" fill-opacity="1.0"/><rect x="39.04" y="81.85" width="1.92" height="1.40" fill="#959595" fill-opacity="0.6"/><rect x="39.24" y="83.40" width="1.92" height="1.40" fill="#959595" fill-opacity="0.75"/><rect x="39.44" y="85.15" width="1.92" height="0.80" fill="#959595" fill-opacity="0.6"/><rect x="38.80" y="86.10" width="2.40" height="0.80" fill="#959595" fill-opacity="0.9"/><rect x="39.44" y="87.05" width="1.92" height="0.35" fill="#959595" fill-opacity="1.0"/>
<rect x="39.35" y="88.90" width="1.7" height="1.1" fill="#9a9a9a"/>
<rect x="42.02" y="80.20" width="2.16" height="1.20" fill="#959595" fill-opacity="0.9"/><rect x="42.22" y="81.55" width="2.16" height="1.40" fill="#959595" fill-opacity="1.0"/><rect x="42.54" y="83.20" width="1.92" height="0.80" fill="#959595" fill-opacity="0.75"/><rect x="41.90" y="84.25" width="2.40" height="1.20" fill="#959595" fill-opacity="1.0"/><rect x="42.10" y="85.80" width="2.40" height="0.80" fill="#959595" fill-opacity="0.75"/><rect x="41.90" y="86.75" width="2.40" height="0.65" fill="#959595" fill-opacity="0.9"/>
<rect x="42.45" y="88.90" width="1.7" height="1.1" fill="#9a9a9a"/>
<rect x="45.44" y="80.20" width="1.92" height="1.20" fill="#959595" fill-opacity="0.9"/><rect x="45.00" y="81.55" width="2.40" height="1.20" fill="#959595" fill-opacity="0.75"/><rect x="45.64" y="82.90" width="1.92" height="1.40" fill="#959595" fill-opacity="0.75"/><rect x="45.44" y="84.55" width="1.92" height="1.20" fill="#959595" fill-opacity="0.6"/><rect x="45.40" y="86.00" width="2.40" height="1.20" fill="#959595" fill-opacity="0.75"/>
<rect x="45.55" y="88.90" width="1.7" height="1.1" fill="#9a9a9a"/>
<rect x="48.12" y="80.20" width="2.16" height="1.40" fill="#959595" fill-opacity="0.9"/><rect x="48.12" y="81.75" width="2.16" height="0.80" fill="#959595" fill-opacity="0.75"/><rect x="48.40" y="82.80" width="2.40" height="1.00" fill="#959595" fill-opacity="1.0"/><rect x="48.00" y="83.95" width="2.40" height="1.40" fill="#959595" fill-opacity="0.9"/><rect x="48.00" y="85.70" width="2.40" height="0.80" fill="#959595" fill-opacity="1.0"/><rect x="48.20" y="86.75" width="2.40" height="0.65" fill="#959595" fill-opacity="1.0"/>
<rect x="48.55" y="88.90" width="1.7" height="1.1" fill="#9a9a9a"/>
<rect x="51.52" y="80.20" width="2.16" height="1.40" fill="#959595" fill-opacity="1.0"/><rect x="51.24" y="81.75" width="1.92" height="1.00" fill="#959595" fill-opacity="0.75"/><rect x="51.40" y="82.90" width="2.40" height="1.40" fill="#959595" fill-opacity="0.75"/><rect x="51.40" y="84.55" width="2.40" height="1.20" fill="#959595" fill-opacity="0.75"/><rect x="51.40" y="85.90" width="2.40" height="0.80" fill="#959595" fill-opacity="0.6"/><rect x="51.24" y="86.85" width="1.92" height="0.55" fill="#959595" fill-opacity="1.0"/>
<rect x="51.55" y="88.90" width="1.7" height="1.1" fill="#9a9a9a"/>
<rect x="54.52" y="80.20" width="2.16" height="1.20" fill="#959595" fill-opacity="0.75"/><rect x="54.20" y="81.55" width="2.40" height="1.20" fill="#959595" fill-opacity="0.9"/><rect x="54.52" y="82.90" width="2.16" height="0.80" fill="#959595" fill-opacity="0.9"/><rect x="54.00" y="84.05" width="2.40" height="1.40" fill="#959595" fill-opacity="0.75"/><rect x="54.64" y="85.80" width="1.92" height="0.80" fill="#959595" fill-opacity="1.0"/><rect x="54.44" y="86.75" width="1.92" height="0.65" fill="#959595" fill-opacity="0.75"/>
<rect x="54.55" y="88.90" width="1.7" height="1.1" fill="#9a9a9a"/>
<rect x="57.42" y="80.20" width="2.16" height="0.80" fill="#959595" fill-opacity="0.6"/><rect x="56.90" y="81.35" width="2.40" height="1.40" fill="#959595" fill-opacity="0.6"/><rect x="57.14" y="82.90" width="1.92" height="1.00" fill="#959595" fill-opacity="0.9"/><rect x="57.34" y="84.25" width="1.92" height="1.40" fill="#959595" fill-opacity="0.6"/><rect x="57.42" y="85.90" width="2.16" height="1.00" fill="#959595" fill-opacity="0.9"/>
<rect x="57.45" y="88.90" width="1.7" height="1.1" fill="#9a9a9a"/>
<rect x="60.30" y="80.20" width="2.40" height="1.40" fill="#959595" fill-opacity="0.75"/><rect x="60.34" y="81.85" width="1.92" height="1.00" fill="#959595" fill-opacity="1.0"/><rect x="60.02" y="83.00" width="2.16" height="1.40" fill="#959595" fill-opacity="1.0"/><rect x="60.14" y="84.75" width="1.92" height="1.00" fill="#959595" fill-opacity="1.0"/><rect x="60.54" y="86.10" width="1.92" height="1.20" fill="#959595" fill-opacity="0.6"/>
<rect x="60.45" y="88.90" width="1.7" height="1.1" fill="#9a9a9a"/>
<rect x="63.02" y="80.20" width="2.16" height="1.20" fill="#959595" fill-opacity="0.75"/><rect x="63.22" y="81.65" width="2.16" height="1.00" fill="#959595" fill-opacity="0.6"/><rect x="63.10" y="82.80" width="2.40" height="1.00" fill="#959595" fill-opacity="0.75"/><rect x="63.02" y="84.15" width="2.16" height="1.40" fill="#959595" fill-opacity="0.9"/><rect x="63.10" y="85.80" width="2.40" height="1.20" fill="#959595" fill-opacity="0.6"/><rect x="63.42" y="87.15" width="2.16" height="0.25" fill="#959595" fill-opacity="1.0"/>
<rect x="63.45" y="88.90" width="1.7" height="1.1" fill="#9a9a9a"/>
<rect x="66.30" y="80.20" width="2.40" height="1.40" fill="#959595" fill-opacity="0.9"/><rect x="66.14" y="81.85" width="1.92" height="0.80" fill="#959595" fill-opacity="0.6"/><rect x="66.14" y="82.80" width="1.92" height="1.20" fill="#959595" fill-opacity="0.9"/><rect x="66.10" y="84.25" width="2.40" height="1.00" fill="#959595" fill-opacity="1.0"/><rect x="66.10" y="85.50" width="2.40" height="1.00" fill="#959595" fill-opacity="1.0"/><rect x="65.90" y="86.65" width="2.40" height="0.75" fill="#959595" fill-opacity="0.6"/>
<rect x="66.45" y="88.90" width="1.7" height="1.1" fill="#9a9a9a"/>
<rect x="69.54" y="80.20" width="1.92" height="0.80" fill="#959595" fill-opacity="0.9"/><rect x="68.90" y="81.15" width="2.40" height="1.20" fill="#959595" fill-opacity="0.6"/><rect x="69.02" y="82.50" width="2.16" height="1.20" fill="#959595" fill-opacity="0.6"/><rect x="68.90" y="83.95" width="2.40" height="1.40" fill="#959595" fill-opacity="0.9"/><rect x="69.34" y="85.50" width="1.92" height="1.00" fill="#959595" fill-opacity="0.6"/><rect x="69.42" y="86.65" width="2.16" height="0.75" fill="#959595" fill-opacity="0.75"/>
<rect x="69.45" y="88.90" width="1.7" height="1.1" fill="#9a9a9a"/>
<rect x="72.42" y="80.20" width="2.16" height="1.00" fill="#959595" fill-opacity="0.9"/><rect x="72.02" y="81.55" width="2.16" height="1.00" fill="#959595" fill-opacity="0.9"/><rect x="72.54" y="82.80" width="1.92" height="0.80" fill="#959595" fill-opacity="0.6"/><rect x="72.34" y="83.95" width="1.92" height="1.00" fill="#959595" fill-opacity="1.0"/><rect x="72.10" y="85.10" width="2.40" height="1.40" fill="#959595" fill-opacity="1.0"/><rect x="72.34" y="86.85" width="1.92" height="0.55" fill="#959595" fill-opacity="0.75"/>
<rect x="72.45" y="88.90" width="1.7" height="1.1" fill="#9a9a9a"/>
<rect x="74.92" y="80.20" width="2.16" height="1.00" fill="#959595" fill-opacity="1.0"/><rect x="75.20" y="81.35" width="2.40" height="0.80" fill="#959595" fill-opacity="0.6"/><rect x="75.04" y="82.40" width="1.92" height="1.40" fill="#959595" fill-opacity="0.75"/><rect x="74.80" y="84.15" width="2.40" height="1.40" fill="#959595" fill-opacity="0.9"/><rect x="74.92" y="85.90" width="2.16" height="1.20" fill="#959595" fill-opacity="0.6"/>
<rect x="75.35" y="88.90" width="1.7" height="1.1" fill="#9a9a9a"/>
<rect x="78.34" y="80.20" width="1.92" height="1.20" fill="#959595" fill-opacity="1.0"/><rect x="78.14" y="81.65" width="1.92" height="1.20" fill="#959595" fill-opacity="0.9"/><rect x="78.14" y="83.10" width="1.92" height="1.00" fill="#959595" fill-opacity="0.9"/><rect x="78.22" y="84.35" width="2.16" height="1.40" fill="#959595" fill-opacity="0.6"/><rect x="77.90" y="86.10" width="2.40" height="1.00" fill="#959595" fill-opacity="0.75"/>
<rect x="78.45" y="88.90" width="1.7" height="1.1" fill="#9a9a9a"/>
<rect x="81.34" y="80.20" width="1.92" height="1.20" fill="#959595" fill-opacity="0.6"/><rect x="81.34" y="81.75" width="1.92" height="0.80" fill="#959595" fill-opacity="1.0"/><rect x="81.30" y="82.80" width="2.40" height="1.00" fill="#959595" fill-opacity="0.6"/><rect x="81.10" y="83.95" width="2.40" height="1.40" fill="#959595" fill-opacity="0.9"/><rect x="81.54" y="85.50" width="1.92" height="1.20" fill="#959595" fill-opacity="0.75"/><rect x="81.30" y="87.05" width="2.40" height="0.35" fill="#959595" fill-opacity="0.75"/>
<rect x="81.45" y="88.90" width="1.7" height="1.1" fill="#9a9a9a"/>
<rect x="84.14" y="80.20" width="1.92" height="0.80" fill="#959595" fill-opacity="0.75"/><rect x="84.34" y="81.15" width="1.92" height="1.00" fill="#959595" fill-opacity="0.9"/><rect x="84.30" y="82.40" width="2.40" height="0.80" fill="#959595" fill-opacity="0.6"/><rect x="84.02" y="83.55" width="2.16" height="1.00" fill="#959595" fill-opacity="1.0"/><rect x="84.30" y="84.80" width="2.40" height="0.80" fill="#959595" fill-opacity="0.6"/><rect x="84.34" y="85.75" width="1.92" height="1.40" fill="#959595" fill-opacity="0.9"/>
<rect x="84.45" y="88.90" width="1.7" height="1.1" fill="#9a9a9a"/>
<rect x="87.40" y="80.20" width="2.40" height="1.00" fill="#959595" fill-opacity="0.75"/><rect x="87.44" y="81.45" width="1.92" height="1.40" fill="#959595" fill-opacity="1.0"/><rect x="87.40" y="83.20" width="2.40" height="1.20" fill="#959595" fill-opacity="0.6"/><rect x="87.00" y="84.75" width="2.40" height="1.00" fill="#959595" fill-opacity="0.6"/><rect x="87.40" y="86.00" width="2.40" height="1.20" fill="#959595" fill-opacity="0.9"/>
<rect x="87.55" y="88.90" width="1.7" height="1.1" fill="#9a9a9a"/>
<rect x="90.44" y="80.20" width="1.92" height="0.80" fill="#959595" fill-opacity="1.0"/><rect x="90.20" y="81.25" width="2.40" height="0.80" fill="#959595" fill-opacity="0.75"/><rect x="90.32" y="82.30" width="2.16" height="1.20" fill="#959595" fill-opacity="1.0"/><rect x="90.44" y="83.65" width="1.92" height="1.00" fill="#959595" fill-opacity="0.9"/><rect x="90.64" y="84.80" width="1.92" height="1.20" fill="#959595" fill-opacity="1.0"/><rect x="90.24" y="86.25" width="1.92" height="1.15" fill="#959595" fill-opacity="1.0"/>
<rect x="90.55" y="88.90" width="1.7" height="1.1" fill="#9a9a9a"/>
<rect x="93.40" y="80.20" width="2.40" height="0.80" fill="#959595" fill-opacity="0.75"/><rect x="93.40" y="81.25" width="2.40" height="1.20" fill="#959595" fill-opacity="0.75"/><rect x="93.20" y="82.80" width="2.40" height="1.20" fill="#959595" fill-opacity="0.6"/><rect x="93.12" y="84.15" width="2.16" height="1.40" fill="#959595" fill-opacity="1.0"/><rect x="93.20" y="85.70" width="2.40" height="0.80" fill="#959595" fill-opacity="1.0"/><rect x="93.32" y="86.75" width="2.16" height="0.65" fill="#959595" fill-opacity="0.75"/>
<rect x="93.55" y="88.90" width="1.7" height="1.1" fill="#9a9a9a"/>
<rect x="96.22" y="80.20" width="2.16" height="1.20" fill="#959595" fill-opacity="0.6"/><rect x="96.34" y="81.65" width="1.92" height="1.20" fill="#959595" fill-opacity="1.0"/><rect x="96.42" y="83.20" width="2.16" height="0.80" fill="#959595" fill-opacity="0.9"/><rect x="96.10" y="84.15" width="2.40" height="1.40" fill="#959595" fill-opacity="1.0"/><rect x="96.54" y="85.80" width="1.92" height="1.40" fill="#959595" fill-opacity="0.9"/>
<rect x="96.65" y="88.90" width="1.7" height="1.1" fill="#9a9a9a"/>
<rect x="99.00" y="80.20" width="2.40" height="0.80" fill="#959595" fill-opacity="0.9"/><rect x="99.20" y="81.15" width="2.40" height="1.20" fill="#959595" fill-opacity="1.0"/><rect x="99.64" y="82.50" width="1.92" height="1.20" fill="#959595" fill-opacity="1.0"/><rect x="99.64" y="83.95" width="1.92" height="1.00" fill="#959595" fill-opacity="0.6"/><rect x="99.20" y="85.20" width="2.40" height="1.40" fill="#959595" fill-opacity="0.75"/><rect x="99.44" y="86.85" width="1.92" height="0.55" fill="#959595" fill-opacity="0.75"/>
<rect x="99.55" y="88.90" width="1.7" height="1.1" fill="#9a9a9a"/>
<rect x="102.22" y="80.20" width="2.16" height="1.20" fill="#959595" fill-opacity="0.9"/><rect x="101.90" y="81.75" width="2.40" height="1.20" fill="#959595" fill-opacity="1.0"/><rect x="102.14" y="83.20" width="1.92" height="1.40" fill="#959595" fill-opacity="1.0"/><rect x="102.54" y="84.95" width="1.92" height="1.00" fill="#959595" fill-opacity="0.6"/><rect x="102.22" y="86.20" width="2.16" height="1.00" fill="#959595" fill-opacity="1.0"/>
<rect x="102.45" y="88.90" width="1.7" height="1.1" fill="#9a9a9a"/>
<rect x="105.14" y="80.20" width="1.92" height="1.00" fill="#959595" fill-opacity="0.75"/><rect x="105.02" y="81.35" width="2.16" height="1.20" fill="#959595" fill-opacity="0.6"/><rect x="105.54" y="82.80" width="1.92" height="1.20" fill="#959595" fill-opacity="0.75"/><rect x="105.30" y="84.25" width="2.40" height="1.40" fill="#959595" fill-opacity="1.0"/><rect x="105.02" y="85.80" width="2.16" height="1.40" fill="#959595" fill-opacity="0.9"/>
<rect x="105.45" y="88.90" width="1.7" height="1.1" fill="#9a9a9a"/>
<rect x="108.64" y="80.20" width="1.92" height="1.20" fill="#959595" fill-opacity="0.9"/><rect x="108.12" y="81.75" width="2.16" height="1.00" fill="#959595" fill-opacity="0.6"/><rect x="108.32" y="83.00" width="2.16" height="1.40" fill="#959595" fill-opacity="1.0"/><rect x="108.52" y="84.55" width="2.16" height="1.00" fill="#959595" fill-opacity="0.6"/><rect x="108.44" y="85.80" width="1.92" height="1.40" fill="#959595" fill-opacity="0.6"/>
<rect x="108.55" y="88.90" width="1.7" height="1.1" fill="#9a9a9a"/>
<rect x="111.24" y="80.20" width="1.92" height="1.40" fill="#959595" fill-opacity="1.0"/><rect x="111.40" y="81.75" width="2.40" height="1.00" fill="#959595" fill-opacity="0.75"/><rect x="111.00" y="82.90" width="2.40" height="1.40" fill="#959595" fill-opacity="0.6"/><rect x="111.00" y="84.45" width="2.40" height="1.00" fill="#959595" fill-opacity="0.75"/><rect x="111.20" y="85.80" width="2.40" height="1.20" fill="#959595" fill-opacity="0.75"/>
<rect x="111.55" y="88.90" width="1.7" height="1.1" fill="#9a9a9a"/>
<rect x="114.14" y="80.20" width="1.92" height="1.40" fill="#959595" fill-opacity="0.6"/><rect x="114.02" y="81.85" width="2.16" height="1.00" fill="#959595" fill-opacity="1.0"/><rect x="114.10" y="83.20" width="2.40" height="0.80" fill="#959595" fill-opacity="0.6"/><rect x="113.90" y="84.25" width="2.40" height="1.20" fill="#959595" fill-opacity="0.9"/><rect x="114.34" y="85.70" width="1.92" height="1.00" fill="#959595" fill-opacity="0.75"/><rect x="114.14" y="87.05" width="1.92" height="0.35" fill="#959595" fill-opacity="0.6"/>
<rect x="114.45" y="88.90" width="1.7" height="1.1" fill="#9a9a9a"/>
<rect x="117.22" y="80.20" width="2.16" height="1.40" fill="#959595" fill-opacity="0.6"/><rect x="117.54" y="81.95" width="1.92" height="1.40" fill="#959595" fill-opacity="0.9"/><rect x="117.62" y="83.50" width="2.16" height="1.20" fill="#959595" fill-opacity="1.0"/><rect x="117.62" y="84.95" width="2.16" height="1.00" fill="#959595" fill-opacity="0.6"/><rect x="117.22" y="86.30" width="2.16" height="0.80" fill="#959595" fill-opacity="0.75"/>
<rect x="117.65" y="88.90" width="1.7" height="1.1" fill="#9a9a9a"/>
<rect x="120.02" y="80.20" width="2.16" height="1.00" fill="#959595" fill-opacity="0.75"/><rect x="120.10" y="81.45" width="2.40" height="1.20" fill="#959595" fill-opacity="0.6"/><rect x="120.22" y="83.00" width="2.16" height="1.00" fill="#959595" fill-opacity="0.75"/><rect x="120.02" y="84.35" width="2.16" height="0.80" fill="#959595" fill-opacity="0.75"/><rect x="120.02" y="85.30" width="2.16" height="0.80" fill="#959595" fill-opacity="0.75"/><rect x="120.22" y="86.45" width="2.16" height="0.80" fill="#959595" fill-opacity="0.75"/>
<rect x="120.45" y="88.90" width="1.7" height="1.1" fill="#9a9a9a"/>
<rect x="123.24" y="80.20" width="1.92" height="1.20" fill="#959595" fill-opacity="0.6"/><rect x="123.40" y="81.65" width="2.40" height="1.00" fill="#959595" fill-opacity="0.75"/><rect x="123.52" y="83.00" width="2.16" height="1.40" fill="#959595" fill-opacity="0.6"/><rect x="123.32" y="84.75" width="2.16" height="1.40" fill="#959595" fill-opacity="0.9"/><rect x="123.44" y="86.30" width="1.92" height="0.80" fill="#959595" fill-opacity="0.6"/>
<rect x="123.55" y="88.90" width="1.7" height="1.1" fill="#9a9a9a"/>
<rect x="126.54" y="80.20" width="1.92" height="1.20" fill="#959595" fill-opacity="1.0"/><rect x="126.22" y="81.55" width="2.16" height="1.40" fill="#959595" fill-opacity="0.9"/><rect x="126.34" y="83.10" width="1.92" height="0.80" fill="#959595" fill-opacity="1.0"/><rect x="126.22" y="84.25" width="2.16" height="1.40" fill="#959595" fill-opacity="0.75"/><rect x="126.10" y="86.00" width="2.40" height="1.40" fill="#959595" fill-opacity="0.6"/>
<rect x="126.45" y="88.90" width="1.7" height="1.1" fill="#9a9a9a"/>
<rect x="129.12" y="80.20" width="2.16" height="1.40" fill="#959595" fill-opacity="0.6"/><rect x="129.12" y="81.85" width="2.16" height="0.80" fill="#959595" fill-opacity="0.6"/><rect x="129.32" y="83.00" width="2.16" height="0.80" fill="#959595" fill-opacity="0.9"/><rect x="129.40" y="84.05" width="2.40" height="0.80" fill="#959595" fill-opacity="0.9"/><rect x="129.12" y="85.20" width="2.16" height="1.20" fill="#959595" fill-opacity="0.9"/><rect x="129.24" y="86.75" width="1.92" height="0.65" fill="#959595" fill-opacity="0.6"/>
<rect x="129.55" y="88.90" width="1.7" height="1.1" fill="#9a9a9a"/>
<rect x="132.32" y="80.20" width="2.16" height="1.40" fill="#959595" fill-opacity="1.0"/><rect x="132.24" y="81.85" width="1.92" height="1.00" fill="#959595" fill-opacity="1.0"/><rect x="132.00" y="83.20" width="2.40" height="1.20" fill="#959595" fill-opacity="0.75"/><rect x="132.52" y="84.65" width="2.16" height="1.20" fill="#959595" fill-opacity="1.0"/><rect x="132.24" y="86.00" width="1.92" height="1.00" fill="#959595" fill-opacity="1.0"/>
<rect x="132.55" y="88.90" width="1.7" height="1.1" fill="#9a9a9a"/>
<rect x="135.52" y="80.20" width="2.16" height="0.80" fill="#959595" fill-opacity="0.6"/><rect x="135.12" y="81.35" width="2.16" height="1.20" fill="#959595" fill-opacity="0.75"/><rect x="135.24" y="82.70" width="1.92" height="1.20" fill="#959595" fill-opacity="0.6"/><rect x="135.24" y="84.15" width="1.92" height="1.40" fill="#959595" fill-opacity="1.0"/><rect x="135.40" y="85.70" width="2.40" height="1.40" fill="#959595" fill-opacity="1.0"/>
<rect x="135.55" y="88.90" width="1.7" height="1.1" fill="#9a9a9a"/>
<rect x="141.52" y="80.20" width="2.16" height="0.80" fill="#959595" fill-opacity="0.9"/><rect x="141.72" y="81.35" width="2.16" height="1.20" fill="#959595" fill-opacity="0.9"/><rect x="141.44" y="82.80" width="1.92" height="1.00" fill="#959595" fill-opacity="1.0"/><rect x="141.72" y="83.95" width="2.16" height="1.00" fill="#959595" fill-opacity="0.75"/><rect x="141.52" y="85.10" width="2.16" height="1.20" fill="#959595" fill-opacity="0.6"/><rect x="141.40" y="86.45" width="2.40" height="0.95" fill="#959595" fill-opacity="0.6"/>
<rect x="141.75" y="88.90" width="1.7" height="1.1" fill="#9a9a9a"/>
<rect x="144.32" y="80.20" width="2.16" height="0.80" fill="#959595" fill-opacity="0.6"/><rect x="144.32" y="81.25" width="2.16" height="1.20" fill="#959595" fill-opacity="0.6"/><rect x="144.60" y="82.60" width="2.40" height="0.80" fill="#959595" fill-opacity="0.75"/><rect x="144.20" y="83.55" width="2.40" height="0.80" fill="#959595" fill-opacity="0.9"/><rect x="144.84" y="84.60" width="1.92" height="1.20" fill="#959595" fill-opacity="0.6"/><rect x="144.64" y="86.15" width="1.92" height="1.20" fill="#959595" fill-opacity="0.75"/>
<rect x="144.75" y="88.90" width="1.7" height="1.1" fill="#9a9a9a"/>
<rect x="147.54" y="80.20" width="1.92" height="1.00" fill="#959595" fill-opacity="0.6"/><rect x="147.42" y="81.35" width="2.16" height="1.00" fill="#959595" fill-opacity="0.6"/><rect x="147.30" y="82.70" width="2.40" height="1.20" fill="#959595" fill-opacity="0.75"/><rect x="147.62" y="84.05" width="2.16" height="1.00" fill="#959595" fill-opacity="0.6"/><rect x="147.54" y="85.30" width="1.92" height="0.80" fill="#959595" fill-opacity="1.0"/><rect x="147.10" y="86.45" width="2.40" height="0.95" fill="#959595" fill-opacity="0.6"/>
<rect x="147.65" y="88.90" width="1.7" height="1.1" fill="#9a9a9a"/>
<rect x="150.62" y="80.20" width="2.16" height="1.20" fill="#959595" fill-opacity="1.0"/><rect x="150.62" y="81.65" width="2.16" height="1.40" fill="#959595" fill-opacity="0.6"/><rect x="150.22" y="83.40" width="2.16" height="1.20" fill="#959595" fill-opacity="1.0"/><rect x="150.30" y="84.85" width="2.40" height="1.00" fill="#959595" fill-opacity="1.0"/><rect x="150.54" y="86.00" width="1.92" height="0.80" fill="#959595" fill-opacity="1.0"/><rect x="150.30" y="86.95" width="2.40" height="0.45" fill="#959595" fill-opacity="1.0"/>
<rect x="150.65" y="88.90" width="1.7" height="1.1" fill="#9a9a9a"/>
<rect x="153.34" y="80.20" width="1.92" height="1.00" fill="#959595" fill-opacity="0.75"/><rect x="153.74" y="81.55" width="1.92" height="1.00" fill="#959595" fill-opacity="1.0"/><rect x="153.54" y="82.90" width="1.92" height="1.20" fill="#959595" fill-opacity="0.75"/><rect x="153.34" y="84.35" width="1.92" height="1.00" fill="#959595" fill-opacity="0.75"/><rect x="153.22" y="85.60" width="2.16" height="1.40" fill="#959595" fill-opacity="0.75"/><rect x="153.74" y="87.15" width="1.92" height="0.25" fill="#959595" fill-opacity="0.9"/>
<rect x="153.65" y="88.90" width="1.7" height="1.1" fill="#9a9a9a"/>
<rect x="156.60" y="80.20" width="2.40" height="1.40" fill="#959595" fill-opacity="0.6"/><rect x="156.40" y="81.95" width="2.40" height="1.00" fill="#959595" fill-opacity="0.75"/><rect x="156.84" y="83.30" width="1.92" height="1.00" fill="#959595" fill-opacity="1.0"/><rect x="156.20" y="84.45" width="2.40" height="0.80" fill="#959595" fill-opacity="1.0"/><rect x="156.44" y="85.50" width="1.92" height="1.20" fill="#959595" fill-opacity="0.6"/><rect x="156.60" y="87.05" width="2.40" height="0.35" fill="#959595" fill-opacity="0.6"/>
<rect x="156.75" y="88.90" width="1.7" height="1.1" fill="#9a9a9a"/>
<rect x="159.62" y="80.20" width="2.16" height="1.20" fill="#959595" fill-opacity="0.6"/><rect x="159.62" y="81.65" width="2.16" height="1.20" fill="#959595" fill-opacity="1.0"/><rect x="159.30" y="83.00" width="2.40" height="1.40" fill="#959595" fill-opacity="1.0"/><rect x="159.34" y="84.65" width="1.92" height="1.40" fill="#959595" fill-opacity="0.75"/><rect x="159.54" y="86.40" width="1.92" height="1.00" fill="#959595" fill-opacity="1.0"/>
<rect x="159.65" y="88.90" width="1.7" height="1.1" fill="#9a9a9a"/>
<rect x="162.32" y="80.20" width="2.16" height="1.40" fill="#959595" fill-opacity="0.75"/><rect x="162.32" y="81.75" width="2.16" height="0.80" fill="#959595" fill-opacity="0.75"/><rect x="162.40" y="82.80" width="2.40" height="0.80" fill="#959595" fill-opacity="1.0"/><rect x="162.00" y="83.95" width="2.40" height="0.80" fill="#959595" fill-opacity="0.6"/><rect x="162.64" y="84.90" width="1.92" height="1.20" fill="#959595" fill-opacity="0.6"/><rect x="162.64" y="86.35" width="1.92" height="1.00" fill="#959595" fill-opacity="0.6"/>
<rect x="162.55" y="88.90" width="1.7" height="1.1" fill="#9a9a9a"/>
<rect x="165.44" y="80.20" width="1.92" height="0.80" fill="#959595" fill-opacity="0.75"/><rect x="165.44" y="81.25" width="1.92" height="1.00" fill="#959595" fill-opacity="0.75"/><rect x="165.52" y="82.60" width="2.16" height="1.20" fill="#959595" fill-opacity="0.75"/><rect x="165.52" y="84.05" width="2.16" height="1.40" fill="#959595" fill-opacity="0.75"/><rect x="165.40" y="85.70" width="2.40" height="1.00" fill="#959595" fill-opacity="0.9"/><rect x="165.24" y="86.85" width="1.92" height="0.55" fill="#959595" fill-opacity="0.9"/>
<rect x="165.55" y="88.90" width="1.7" height="1.1" fill="#9a9a9a"/>
<rect x="168.20" y="80.20" width="2.40" height="1.40" fill="#959595" fill-opacity="0.75"/><rect x="168.44" y="81.95" width="1.92" height="1.20" fill="#959595" fill-opacity="1.0"/><rect x="168.52" y="83.30" width="2.16" height="0.80" fill="#959595" fill-opacity="0.9"/><rect x="168.40" y="84.45" width="2.40" height="0.80" fill="#959595" fill-opacity="0.9"/><rect x="168.32" y="85.50" width="2.16" height="1.20" fill="#959595" fill-opacity="0.9"/><rect x="168.12" y="87.05" width="2.16" height="0.35" fill="#959595" fill-opacity="0.9"/>
<rect x="168.55" y="88.90" width="1.7" height="1.1" fill="#9a9a9a"/>
<rect x="171.30" y="80.20" width="2.40" height="1.00" fill="#959595" fill-opacity="0.75"/><rect x="171.42" y="81.35" width="2.16" height="1.20" fill="#959595" fill-opacity="0.9"/><rect x="170.90" y="82.90" width="2.40" height="1.20" fill="#959595" fill-opacity="0.6"/><rect x="171.30" y="84.25" width="2.40" height="1.00" fill="#959595" fill-opacity="0.9"/><rect x="171.14" y="85.50" width="1.92" height="1.40" fill="#959595" fill-opacity="0.9"/><rect x="171.14" y="87.15" width="1.92" height="0.25" fill="#959595" fill-opacity="0.6"/>
<rect x="171.45" y="88.90" width="1.7" height="1.1" fill="#9a9a9a"/>
<rect x="174.64" y="80.20" width="1.92" height="1.20" fill="#959595" fill-opacity="0.9"/><rect x="174.20" y="81.65" width="2.40" height="1.00" fill="#959595" fill-opacity="1.0"/><rect x="174.52" y="83.00" width="2.16" height="1.00" fill="#959595" fill-opacity="0.75"/><rect x="174.24" y="84.25" width="1.92" height="1.00" fill="#959595" fill-opacity="0.75"/><rect x="174.24" y="85.60" width="1.92" height="1.00" fill="#959595" fill-opacity="1.0"/><rect x="174.32" y="86.95" width="2.16" height="0.45" fill="#959595" fill-opacity="0.9"/>
<rect x="174.55" y="88.90" width="1.7" height="1.1" fill="#9a9a9a"/>
<rect x="177.40" y="80.20" width="2.40" height="0.80" fill="#959595" fill-opacity="0.9"/><rect x="177.24" y="81.35" width="1.92" height="1.40" fill="#959595" fill-opacity="1.0"/><rect x="177.00" y="82.90" width="2.40" height="0.80" fill="#959595" fill-opacity="0.6"/><rect x="177.24" y="83.95" width="1.92" height="1.00" fill="#959595" fill-opacity="0.75"/><rect x="177.44" y="85.10" width="1.92" height="0.80" fill="#959595" fill-opacity="0.75"/><rect x="177.20" y="86.05" width="2.40" height="1.35" fill="#959595" fill-opacity="0.75"/>
<rect x="177.55" y="88.90" width="1.7" height="1.1" fill="#9a9a9a"/>
<rect x="180.20" y="80.20" width="2.40" height="1.20" fill="#959595" fill-opacity="0.6"/><rect x="180.52" y="81.75" width="2.16" height="0.80" fill="#959595" fill-opacity="1.0"/><rect x="180.24" y="82.80" width="1.92" height="0.80" fill="#959595" fill-opacity="1.0"/><rect x="180.00" y="83.75" width="2.40" height="1.20" fill="#959595" fill-opacity="0.75"/><rect x="180.00" y="85.10" width="2.40" height="1.20" fill="#959595" fill-opacity="0.9"/><rect x="180.52" y="86.55" width="2.16" height="0.85" fill="#959595" fill-opacity="0.9"/>
<rect x="180.55" y="88.90" width="1.7" height="1.1" fill="#9a9a9a"/>
<rect x="183.54" y="80.20" width="1.92" height="0.80" fill="#959595" fill-opacity="0.6"/><rect x="183.30" y="81.15" width="2.40" height="1.00" fill="#959595" fill-opacity="0.75"/><rect x="183.10" y="82.30" width="2.40" height="1.40" fill="#959595" fill-opacity="0.9"/><rect x="183.50" y="83.95" width="2.40" height="1.40" fill="#959595" fill-opacity="1.0"/><rect x="183.10" y="85.50" width="2.40" height="0.80" fill="#959595" fill-opacity="1.0"/><rect x="183.62" y="86.65" width="2.16" height="0.75" fill="#959595" fill-opacity="0.75"/>
<rect x="183.65" y="88.90" width="1.7" height="1.1" fill="#9a9a9a"/>
<rect x="186.24" y="80.20" width="1.92" height="0.80" fill="#959595" fill-opacity="0.75"/><rect x="186.00" y="81.15" width="2.40" height="0.80" fill="#959595" fill-opacity="0.6"/><rect x="186.24" y="82.20" width="1.92" height="1.00" fill="#959595" fill-opacity="0.6"/><rect x="186.00" y="83.35" width="2.40" height="0.80" fill="#959595" fill-opacity="0.6"/><rect x="186.40" y="84.30" width="2.40" height="1.20" fill="#959595" fill-opacity="0.75"/><rect x="186.24" y="85.65" width="1.92" height="1.40" fill="#959595" fill-opacity="0.6"/>
<rect x="186.55" y="88.90" width="1.7" height="1.1" fill="#9a9a9a"/>
<rect x="189.64" y="80.20" width="1.92" height="0.80" fill="#959595" fill-opacity="0.6"/><rect x="189.24" y="81.15" width="1.92" height="1.20" fill="#959595" fill-opacity="1.0"/><rect x="189.32" y="82.50" width="2.16" height="1.00" fill="#959595" fill-opacity="0.9"/><rect x="189.32" y="83.75" width="2.16" height="1.20" fill="#959595" fill-opacity="0.6"/><rect x="189.52" y="85.20" width="2.16" height="0.80" fill="#959595" fill-opacity="0.9"/><rect x="189.40" y="86.35" width="2.40" height="1.05" fill="#959595" fill-opacity="0.9"/>
<rect x="189.55" y="88.90" width="1.7" height="1.1" fill="#9a9a9a"/>
<rect x="192.52" y="80.20" width="2.16" height="1.40" fill="#959595" fill-opacity="0.6"/><rect x="192.00" y="81.75" width="2.40" height="1.20" fill="#959595" fill-opacity="1.0"/><rect x="192.20" y="83.30" width="2.40" height="1.00" fill="#959595" fill-opacity="0.6"/><rect x="192.00" y="84.45" width="2.40" height="1.40" fill="#959595" fill-opacity="0.6"/><rect x="192.32" y="86.10" width="2.16" height="0.80" fill="#959595" fill-opacity="0.6"/><rect x="192.52" y="87.05" width="2.16" height="0.35" fill="#959595" fill-opacity="0.75"/>
<rect x="192.55" y="88.90" width="1.7" height="1.1" fill="#9a9a9a"/>
<rect x="198.62" y="80.20" width="2.16" height="1.20" fill="#959595" fill-opacity="0.75"/><rect x="198.74" y="81.75" width="1.92" height="1.00" fill="#959595" fill-opacity="1.0"/><rect x="198.90" y="83.10" width="2.40" height="0.80" fill="#959595" fill-opacity="1.0"/><rect x="198.94" y="84.05" width="1.92" height="1.20" fill="#959595" fill-opacity="0.9"/><rect x="198.50" y="85.50" width="2.40" height="0.80" fill="#959595" fill-opacity="1.0"/><rect x="198.82" y="86.55" width="2.16" height="0.85" fill="#959595" fill-opacity="0.9"/>
<rect x="199.05" y="88.90" width="1.7" height="1.1" fill="#9a9a9a"/>
<rect x="201.40" y="80.20" width="2.40" height="1.00" fill="#959595" fill-opacity="1.0"/><rect x="201.92" y="81.45" width="2.16" height="1.00" fill="#959595" fill-opacity="0.6"/><rect x="201.80" y="82.70" width="2.40" height="1.00" fill="#959595" fill-opacity="1.0"/><rect x="201.72" y="84.05" width="2.16" height="1.20" fill="#959595" fill-opacity="0.75"/><rect x="201.84" y="85.60" width="1.92" height="1.20" fill="#959595" fill-opacity="0.75"/><rect x="201.72" y="87.05" width="2.16" height="0.35" fill="#959595" fill-opacity="0.75"/>
<rect x="201.95" y="88.90" width="1.7" height="1.1" fill="#9a9a9a"/>
<rect x="204.94" y="80.20" width="1.92" height="1.00" fill="#959595" fill-opacity="0.75"/><rect x="204.74" y="81.45" width="1.92" height="1.20" fill="#959595" fill-opacity="0.75"/><rect x="204.94" y="82.80" width="1.92" height="1.20" fill="#959595" fill-opacity="0.6"/><rect x="204.54" y="84.15" width="1.92" height="1.00" fill="#959595" fill-opacity="1.0"/><rect x="204.42" y="85.40" width="2.16" height="1.20" fill="#959595" fill-opacity="1.0"/><rect x="204.74" y="86.75" width="1.92" height="0.65" fill="#959595" fill-opacity="0.9"/>
<rect x="204.85" y="88.90" width="1.7" height="1.1" fill="#9a9a9a"/>
<rect x="207.62" y="80.20" width="2.16" height="0.80" fill="#959595" fill-opacity="0.6"/><rect x="207.42" y="81.35" width="2.16" height="1.00" fill="#959595" fill-opacity="0.9"/><rect x="207.94" y="82.50" width="1.92" height="1.20" fill="#959595" fill-opacity="1.0"/><rect x="207.94" y="83.85" width="1.92" height="1.40" fill="#959595" fill-opacity="1.0"/><rect x="207.30" y="85.60" width="2.40" height="1.00" fill="#959595" fill-opacity="0.75"/><rect x="207.82" y="86.85" width="2.16" height="0.55" fill="#959595" fill-opacity="0.9"/>
<rect x="207.85" y="88.90" width="1.7" height="1.1" fill="#9a9a9a"/>
<rect x="210.74" y="80.20" width="1.92" height="0.80" fill="#959595" fill-opacity="1.0"/><rect x="210.62" y="81.35" width="2.16" height="1.00" fill="#959595" fill-opacity="0.9"/><rect x="210.70" y="82.60" width="2.40" height="0.80" fill="#959595" fill-opacity="1.0"/><rect x="210.74" y="83.75" width="1.92" height="1.00" fill="#959595" fill-opacity="0.9"/><rect x="210.82" y="85.00" width="2.16" height="0.80" fill="#959595" fill-opacity="0.6"/><rect x="210.50" y="85.95" width="2.40" height="1.00" fill="#959595" fill-opacity="0.75"/><rect x="210.50" y="87.10" width="2.40" height="0.30" fill="#959595" fill-opacity="0.75"/>
<rect x="210.85" y="88.90" width="1.7" height="1.1" fill="#9a9a9a"/>
<rect x="213.40" y="80.20" width="2.40" height="0.80" fill="#959595" fill-opacity="0.9"/><rect x="213.20" y="81.25" width="2.40" height="1.40" fill="#959595" fill-opacity="0.75"/><rect x="213.20" y="82.90" width="2.40" height="0.80" fill="#959595" fill-opacity="0.9"/><rect x="213.32" y="83.95" width="2.16" height="1.20" fill="#959595" fill-opacity="1.0"/><rect x="213.72" y="85.30" width="2.16" height="0.80" fill="#959595" fill-opacity="1.0"/><rect x="213.44" y="86.45" width="1.92" height="0.95" fill="#959595" fill-opacity="0.9"/>
<rect x="213.75" y="88.90" width="1.7" height="1.1" fill="#9a9a9a"/>
<rect x="216.52" y="80.20" width="2.16" height="1.40" fill="#959595" fill-opacity="0.75"/><rect x="216.84" y="81.75" width="1.92" height="1.00" fill="#959595" fill-opacity="0.75"/><rect x="216.64" y="82.90" width="1.92" height="1.40" fill="#959595" fill-opacity="0.75"/><rect x="216.72" y="84.65" width="2.16" height="1.40" fill="#959595" fill-opacity="1.0"/><rect x="216.32" y="86.40" width="2.16" height="1.00" fill="#959595" fill-opacity="1.0"/>
<rect x="216.75" y="88.90" width="1.7" height="1.1" fill="#9a9a9a"/>
<rect x="219.62" y="80.20" width="2.16" height="1.40" fill="#959595" fill-opacity="0.9"/><rect x="219.30" y="81.75" width="2.40" height="1.40" fill="#959595" fill-opacity="0.6"/><rect x="219.42" y="83.40" width="2.16" height="1.00" fill="#959595" fill-opacity="0.9"/><rect x="219.30" y="84.65" width="2.40" height="1.40" fill="#959595" fill-opacity="0.6"/><rect x="219.34" y="86.20" width="1.92" height="1.20" fill="#959595" fill-opacity="1.0"/>
<rect x="219.65" y="88.90" width="1.7" height="1.1" fill="#9a9a9a"/>
<rect x="222.40" y="80.20" width="2.40" height="1.20" fill="#959595" fill-opacity="0.75"/><rect x="222.44" y="81.75" width="1.92" height="0.80" fill="#959595" fill-opacity="0.6"/><rect x="222.20" y="82.90" width="2.40" height="1.20" fill="#959595" fill-opacity="0.9"/><rect x="222.64" y="84.45" width="1.92" height="1.00" fill="#959595" fill-opacity="0.75"/><rect x="222.72" y="85.70" width="2.16" height="1.00" fill="#959595" fill-opacity="0.75"/><rect x="222.64" y="86.85" width="1.92" height="0.55" fill="#959595" fill-opacity="0.9"/>
<rect x="222.75" y="88.90" width="1.7" height="1.1" fill="#9a9a9a"/>
<rect x="225.40" y="80.20" width="2.40" height="1.00" fill="#959595" fill-opacity="0.6"/><rect x="225.52" y="81.55" width="2.16" height="0.80" fill="#959595" fill-opacity="0.6"/><rect x="225.72" y="82.50" width="2.16" height="1.00" fill="#959595" fill-opacity="1.0"/><rect x="225.84" y="83.65" width="1.92" height="1.40" fill="#959595" fill-opacity="1.0"/><rect x="225.84" y="85.30" width="1.92" height="1.00" fill="#959595" fill-opacity="1.0"/><rect x="225.52" y="86.65" width="2.16" height="0.75" fill="#959595" fill-opacity="0.75"/>
<rect x="225.75" y="88.90" width="1.7" height="1.1" fill="#9a9a9a"/>
<rect x="228.62" y="80.20" width="2.16" height="1.40" fill="#959595" fill-opacity="0.9"/><rect x="228.94" y="81.85" width="1.92" height="1.40" fill="#959595" fill-opacity="0.6"/><rect x="228.30" y="83.50" width="2.40" height="0.80" fill="#959595" fill-opacity="0.6"/><rect x="228.50" y="84.65" width="2.40" height="1.20" fill="#959595" fill-opacity="0.6"/><rect x="228.94" y="86.10" width="1.92" height="1.00" fill="#959595" fill-opacity="0.6"/>
<rect x="228.85" y="88.90" width="1.7" height="1.1" fill="#9a9a9a"/>
<rect x="231.94" y="80.20" width="1.92" height="1.00" fill="#959595" fill-opacity="0.9"/><rect x="231.70" y="81.45" width="2.40" height="1.20" fill="#959595" fill-opacity="1.0"/><rect x="231.62" y="82.80" width="2.16" height="1.20" fill="#959595" fill-opacity="1.0"/><rect x="231.62" y="84.25" width="2.16" height="0.80" fill="#959595" fill-opacity="0.9"/><rect x="231.50" y="85.30" width="2.40" height="1.40" fill="#959595" fill-opacity="0.9"/><rect x="231.50" y="87.05" width="2.40" height="0.35" fill="#959595" fill-opacity="0.75"/>
<rect x="231.85" y="88.90" width="1.7" height="1.1" fill="#9a9a9a"/>
<rect x="234.82" y="80.20" width="2.16" height="1.20" fill="#959595" fill-opacity="0.75"/><rect x="234.74" y="81.65" width="1.92" height="1.00" fill="#959595" fill-opacity="0.6"/><rect x="234.62" y="83.00" width="2.16" height="1.40" fill="#959595" fill-opacity="0.6"/><rect x="234.74" y="84.55" width="1.92" height="0.80" fill="#959595" fill-opacity="0.6"/><rect x="234.30" y="85.70" width="2.40" height="0.80" fill="#959595" fill-opacity="1.0"/><rect x="234.94" y="86.85" width="1.92" height="0.55" fill="#959595" fill-opacity="0.75"/>
<rect x="234.85" y="88.90" width="1.7" height="1.1" fill="#9a9a9a"/>
<rect x="237.84" y="80.20" width="1.92" height="1.40" fill="#959595" fill-opacity="0.75"/><rect x="237.84" y="81.75" width="1.92" height="0.80" fill="#959595" fill-opacity="1.0"/><rect x="237.72" y="82.70" width="2.16" height="1.20" fill="#959595" fill-opacity="0.75"/><rect x="237.64" y="84.25" width="1.92" height="1.20" fill="#959595" fill-opacity="0.9"/><rect x="237.72" y="85.60" width="2.16" height="1.20" fill="#959595" fill-opacity="0.6"/><rect x="237.60" y="87.15" width="2.40" height="0.25" fill="#959595" fill-opacity="1.0"/>
<rect x="237.75" y="88.90" width="1.7" height="1.1" fill="#9a9a9a"/>
<rect x="240.60" y="80.20" width="2.40" height="0.80" fill="#959595" fill-opacity="1.0"/><rect x="240.84" y="81.25" width="1.92" height="1.40" fill="#959595" fill-opacity="0.6"/><rect x="240.72" y="82.90" width="2.16" height="1.00" fill="#959595" fill-opacity="1.0"/><rect x="240.44" y="84.05" width="1.92" height="0.80" fill="#959595" fill-opacity="1.0"/><rect x="240.44" y="85.20" width="1.92" height="0.80" fill="#959595" fill-opacity="1.0"/><rect x="240.44" y="86.35" width="1.92" height="0.80" fill="#959595" fill-opacity="0.6"/>
<rect x="240.75" y="88.90" width="1.7" height="1.1" fill="#9a9a9a"/>
<rect x="243.72" y="80.20" width="2.16" height="1.40" fill="#959595" fill-opacity="0.6"/><rect x="243.60" y="81.95" width="2.40" height="1.00" fill="#959595" fill-opacity="1.0"/><rect x="243.60" y="83.10" width="2.40" height="0.80" fill="#959595" fill-opacity="0.9"/><rect x="243.72" y="84.25" width="2.16" height="1.00" fill="#959595" fill-opacity="0.6"/><rect x="243.40" y="85.60" width="2.40" height="1.40" fill="#959595" fill-opacity="1.0"/><rect x="243.44" y="87.15" width="1.92" height="0.25" fill="#959595" fill-opacity="0.6"/>
<rect x="243.75" y="88.90" width="1.7" height="1.1" fill="#9a9a9a"/>
<rect x="246.52" y="80.20" width="2.16" height="0.80" fill="#959595" fill-opacity="1.0"/><rect x="246.20" y="81.35" width="2.40" height="1.00" fill="#959595" fill-opacity="1.0"/><rect x="246.72" y="82.60" width="2.16" height="1.20" fill="#959595" fill-opacity="1.0"/><rect x="246.72" y="83.95" width="2.16" height="1.00" fill="#959595" fill-opacity="0.6"/><rect x="246.52" y="85.10" width="2.16" height="1.40" fill="#959595" fill-opacity="1.0"/><rect x="246.32" y="86.75" width="2.16" height="0.65" fill="#959595" fill-opacity="0.9"/>
<rect x="246.75" y="88.90" width="1.7" height="1.1" fill="#9a9a9a"/>
<rect x="249.84" y="80.20" width="1.92" height="1.20" fill="#959595" fill-opacity="0.6"/><rect x="249.52" y="81.65" width="2.16" height="1.40" fill="#959595" fill-opacity="0.75"/><rect x="249.52" y="83.40" width="2.16" height="1.40" fill="#959595" fill-opacity="0.75"/><rect x="249.52" y="85.15" width="2.16" height="0.80" fill="#959595" fill-opacity="0.9"/><rect x="249.32" y="86.20" width="2.16" height="1.00" fill="#959595" fill-opacity="0.6"/>
<rect x="249.75" y="88.90" width="1.7" height="1.1" fill="#9a9a9a"/>
<rect x="255.80" y="80.20" width="2.40" height="1.00" fill="#959595" fill-opacity="0.9"/><rect x="255.80" y="81.45" width="2.40" height="1.20" fill="#959595" fill-opacity="0.6"/><rect x="255.40" y="82.90" width="2.40" height="1.40" fill="#959595" fill-opacity="0.75"/><rect x="255.92" y="84.55" width="2.16" height="0.80" fill="#959595" fill-opacity="1.0"/><rect x="255.72" y="85.50" width="2.16" height="1.20" fill="#959595" fill-opacity="0.6"/><rect x="255.64" y="87.05" width="1.92" height="0.35" fill="#959595" fill-opacity="0.9"/>
<rect x="255.95" y="88.90" width="1.7" height="1.1" fill="#9a9a9a"/>
<rect x="258.72" y="80.20" width="2.16" height="1.20" fill="#959595" fill-opacity="0.9"/><rect x="258.44" y="81.75" width="1.92" height="1.00" fill="#959595" fill-opacity="0.75"/><rect x="258.72" y="82.90" width="2.16" height="1.00" fill="#959595" fill-opacity="0.9"/><rect x="258.20" y="84.25" width="2.40" height="1.20" fill="#959595" fill-opacity="1.0"/><rect x="258.32" y="85.60" width="2.16" height="0.80" fill="#959595" fill-opacity="1.0"/><rect x="258.64" y="86.65" width="1.92" height="0.75" fill="#959595" fill-opacity="0.6"/>
<rect x="258.75" y="88.90" width="1.7" height="1.1" fill="#9a9a9a"/>
<rect x="261.82" y="80.20" width="2.16" height="0.80" fill="#959595" fill-opacity="0.9"/><rect x="261.54" y="81.35" width="1.92" height="0.80" fill="#959595" fill-opacity="0.6"/><rect x="261.62" y="82.50" width="2.16" height="1.40" fill="#959595" fill-opacity="0.75"/><rect x="261.70" y="84.15" width="2.40" height="0.80" fill="#959595" fill-opacity="1.0"/><rect x="261.42" y="85.10" width="2.16" height="1.20" fill="#959595" fill-opacity="0.6"/><rect x="261.54" y="86.45" width="1.92" height="0.95" fill="#959595" fill-opacity="0.6"/>
<rect x="261.85" y="88.90" width="1.7" height="1.1" fill="#9a9a9a"/>
<rect x="264.42" y="80.20" width="2.16" height="1.20" fill="#959595" fill-opacity="1.0"/><rect x="264.30" y="81.75" width="2.40" height="1.40" fill="#959595" fill-opacity="0.6"/><rect x="264.30" y="83.40" width="2.40" height="1.20" fill="#959595" fill-opacity="0.75"/><rect x="264.42" y="84.95" width="2.16" height="1.40" fill="#959595" fill-opacity="0.75"/><rect x="264.54" y="86.60" width="1.92" height="0.80" fill="#959595" fill-opacity="0.75"/>
<rect x="264.85" y="88.90" width="1.7" height="1.1" fill="#9a9a9a"/>
<rect x="267.30" y="80.20" width="2.40" height="1.20" fill="#959595" fill-opacity="0.6"/><rect x="267.54" y="81.55" width="1.92" height="1.20" fill="#959595" fill-opacity="1.0"/><rect x="267.94" y="82.90" width="1.92" height="1.20" fill="#959595" fill-opacity="0.6"/><rect x="267.30" y="84.45" width="2.40" height="1.20" fill="#959595" fill-opacity="1.0"/><rect x="267.62" y="85.90" width="2.16" height="1.20" fill="#959595" fill-opacity="0.9"/>
<rect x="267.85" y="88.90" width="1.7" height="1.1" fill="#9a9a9a"/>
<rect x="270.42" y="80.20" width="2.16" height="1.20" fill="#959595" fill-opacity="1.0"/><rect x="270.30" y="81.65" width="2.40" height="1.00" fill="#959595" fill-opacity="0.75"/><rect x="270.54" y="82.90" width="1.92" height="1.00" fill="#959595" fill-opacity="0.6"/><rect x="270.42" y="84.05" width="2.16" height="1.20" fill="#959595" fill-opacity="0.75"/><rect x="270.62" y="85.50" width="2.16" height="0.80" fill="#959595" fill-opacity="0.6"/><rect x="270.94" y="86.55" width="1.92" height="0.85" fill="#959595" fill-opacity="1.0"/>
<rect x="270.85" y="88.90" width="1.7" height="1.1" fill="#9a9a9a"/>
<rect x="273.94" y="80.20" width="1.92" height="1.00" fill="#959595" fill-opacity="0.9"/><rect x="273.30" y="81.35" width="2.40" height="1.00" fill="#959595" fill-opacity="1.0"/><rect x="273.62" y="82.60" width="2.16" height="1.00" fill="#959595" fill-opacity="0.9"/><rect x="273.82" y="83.75" width="2.16" height="1.00" fill="#959595" fill-opacity="0.6"/><rect x="273.62" y="85.00" width="2.16" height="1.20" fill="#959595" fill-opacity="0.75"/><rect x="273.42" y="86.35" width="2.16" height="1.05" fill="#959595" fill-opacity="1.0"/>
<rect x="273.85" y="88.90" width="1.7" height="1.1" fill="#9a9a9a"/>
<rect x="276.50" y="80.20" width="2.40" height="0.80" fill="#959595" fill-opacity="0.75"/><rect x="276.74" y="81.25" width="1.92" height="0.80" fill="#959595" fill-opacity="0.9"/><rect x="276.54" y="82.30" width="1.92" height="1.20" fill="#959595" fill-opacity="0.75"/><rect x="276.54" y="83.75" width="1.92" height="1.20" fill="#959595" fill-opacity="1.0"/><rect x="276.30" y="85.30" width="2.40" height="1.20" fill="#959595" fill-opacity="0.75"/><rect x="276.42" y="86.75" width="2.16" height="0.65" fill="#959595" fill-opacity="0.75"/>
<rect x="276.85" y="88.90" width="1.7" height="1.1" fill="#9a9a9a"/>
<rect x="279.62" y="80.20" width="2.16" height="1.20" fill="#959595" fill-opacity="0.75"/><rect x="279.82" y="81.55" width="2.16" height="1.40" fill="#959595" fill-opacity="0.75"/><rect x="279.30" y="83.10" width="2.40" height="1.00" fill="#959595" fill-opacity="0.75"/><rect x="279.30" y="84.45" width="2.40" height="1.00" fill="#959595" fill-opacity="0.75"/><rect x="279.54" y="85.60" width="1.92" height="1.40" fill="#959595" fill-opacity="0.9"/><rect x="279.54" y="87.15" width="1.92" height="0.25" fill="#959595" fill-opacity="0.9"/>
<rect x="279.85" y="88.90" width="1.7" height="1.1" fill="#9a9a9a"/>
<rect x="282.50" y="80.20" width="2.40" height="1.40" fill="#959595" fill-opacity="0.6"/><rect x="282.54" y="81.85" width="1.92" height="1.20" fill="#959595" fill-opacity="1.0"/><rect x="282.50" y="83.30" width="2.40" height="1.40" fill="#959595" fill-opacity="0.75"/><rect x="282.54" y="84.85" width="1.92" height="1.00" fill="#959595" fill-opacity="0.9"/><rect x="282.82" y="86.20" width="2.16" height="1.20" fill="#959595" fill-opacity="0.6"/>
<rect x="282.85" y="88.90" width="1.7" height="1.1" fill="#9a9a9a"/>
<rect x="285.72" y="80.20" width="2.16" height="0.80" fill="#959595" fill-opacity="0.6"/><rect x="285.20" y="81.15" width="2.40" height="1.20" fill="#959595" fill-opacity="1.0"/><rect x="285.72" y="82.60" width="2.16" height="0.80" fill="#959595" fill-opacity="1.0"/><rect x="285.44" y="83.55" width="1.92" height="1.00" fill="#959595" fill-opacity="0.6"/><rect x="285.64" y="84.70" width="1.92" height="1.00" fill="#959595" fill-opacity="0.75"/><rect x="285.84" y="85.95" width="1.92" height="0.80" fill="#959595" fill-opacity="0.6"/><rect x="285.84" y="87.10" width="1.92" height="0.30" fill="#959595" fill-opacity="0.9"/>
<rect x="285.75" y="88.90" width="1.7" height="1.1" fill="#9a9a9a"/>
<rect x="291.30" y="80.20" width="2.40" height="1.40" fill="#959595" fill-opacity="0.75"/><rect x="291.10" y="81.75" width="2.40" height="1.20" fill="#959595" fill-opacity="0.6"/><rect x="291.42" y="83.10" width="2.16" height="1.20" fill="#959595" fill-opacity="0.6"/><rect x="291.34" y="84.65" width="1.92" height="1.20" fill="#959595" fill-opacity="0.6"/><rect x="291.34" y="86.10" width="1.92" height="1.00" fill="#959595" fill-opacity="0.75"/>
<rect x="291.65" y="88.90" width="1.7" height="1.1" fill="#9a9a9a"/>
<rect x="294.54" y="80.20" width="1.92" height="1.40" fill="#959595" fill-opacity="1.0"/><rect x="294.70" y="81.95" width="2.40" height="1.40" fill="#959595" fill-opacity="1.0"/><rect x="294.74" y="83.70" width="1.92" height="0.80" fill="#959595" fill-opacity="1.0"/><rect x="294.82" y="84.75" width="2.16" height="1.40" fill="#959595" fill-opacity="0.75"/><rect x="294.30" y="86.40" width="2.40" height="1.00" fill="#959595" fill-opacity="1.0"/>
<rect x="294.85" y="88.90" width="1.7" height="1.1" fill="#9a9a9a"/>
<rect x="297.74" y="80.20" width="1.92" height="1.00" fill="#959595" fill-opacity="0.9"/><rect x="297.94" y="81.55" width="1.92" height="0.80" fill="#959595" fill-opacity="0.9"/><rect x="297.42" y="82.50" width="2.16" height="0.80" fill="#959595" fill-opacity="0.9"/><rect x="297.74" y="83.65" width="1.92" height="0.80" fill="#959595" fill-opacity="0.75"/><rect x="297.54" y="84.70" width="1.92" height="1.40" fill="#959595" fill-opacity="0.6"/><rect x="297.70" y="86.45" width="2.40" height="0.95" fill="#959595" fill-opacity="0.9"/>
<rect x="297.85" y="88.90" width="1.7" height="1.1" fill="#9a9a9a"/>
<rect x="300.94" y="80.20" width="1.92" height="0.80" fill="#959595" fill-opacity="0.9"/><rect x="300.74" y="81.15" width="1.92" height="1.40" fill="#959595" fill-opacity="0.75"/><rect x="300.30" y="82.70" width="2.40" height="1.20" fill="#959595" fill-opacity="0.9"/><rect x="300.74" y="84.05" width="1.92" height="0.80" fill="#959595" fill-opacity="0.9"/><rect x="300.94" y="85.20" width="1.92" height="1.00" fill="#959595" fill-opacity="1.0"/><rect x="300.50" y="86.35" width="2.40" height="1.05" fill="#959595" fill-opacity="1.0"/>
<rect x="300.85" y="88.90" width="1.7" height="1.1" fill="#9a9a9a"/>
<rect x="303.60" y="80.20" width="2.40" height="1.00" fill="#959595" fill-opacity="0.6"/><rect x="303.40" y="81.45" width="2.40" height="1.40" fill="#959595" fill-opacity="0.75"/><rect x="303.40" y="83.00" width="2.40" height="1.20" fill="#959595" fill-opacity="1.0"/><rect x="303.32" y="84.55" width="2.16" height="1.40" fill="#959595" fill-opacity="1.0"/><rect x="303.84" y="86.10" width="1.92" height="1.20" fill="#959595" fill-opacity="0.75"/>
<rect x="303.75" y="88.90" width="1.7" height="1.1" fill="#9a9a9a"/>
<rect x="309.84" y="80.20" width="1.92" height="1.40" fill="#959595" fill-opacity="1.0"/><rect x="309.60" y="81.75" width="2.40" height="1.00" fill="#959595" fill-opacity="0.9"/><rect x="309.84" y="83.00" width="1.92" height="1.20" fill="#959595" fill-opacity="0.9"/><rect x="309.40" y="84.35" width="2.40" height="0.80" fill="#959595" fill-opacity="0.75"/><rect x="309.40" y="85.50" width="2.40" height="1.20" fill="#959595" fill-opacity="1.0"/><rect x="309.92" y="87.05" width="2.16" height="0.35" fill="#959595" fill-opacity="1.0"/>
<rect x="309.95" y="88.90" width="1.7" height="1.1" fill="#9a9a9a"/>
<rect x="312.72" y="73.80" width="2.16" height="1.00" fill="#959595" fill-opacity="0.75"/><rect x="312.40" y="75.15" width="2.40" height="1.20" fill="#959595" fill-opacity="0.75"/><rect x="312.80" y="76.70" width="2.40" height="1.20" fill="#959595" fill-opacity="0.6"/><rect x="312.52" y="78.15" width="2.16" height="1.20" fill="#959595" fill-opacity="0.75"/><rect x="312.72" y="79.50" width="2.16" height="1.40" fill="#959595" fill-opacity="0.6"/><rect x="312.92" y="81.25" width="2.16" height="1.00" fill="#959595" fill-opacity="1.0"/><rect x="312.92" y="82.60" width="2.16" height="0.80" fill="#959595" fill-opacity="1.0"/>
<rect x="312.72" y="84.80" width="2.16" height="1.20" fill="#959595" fill-opacity="0.9"/><rect x="313.04" y="86.25" width="1.92" height="1.40" fill="#959595" fill-opacity="0.9"/><rect x="312.52" y="87.90" width="2.16" height="1.40" fill="#959595" fill-opacity="1.0"/><rect x="312.92" y="89.65" width="2.16" height="1.20" fill="#959595" fill-opacity="0.75"/><rect x="312.72" y="91.10" width="2.16" height="1.00" fill="#959595" fill-opacity="0.6"/><rect x="312.84" y="92.45" width="1.92" height="0.85" fill="#959595" fill-opacity="0.9"/>
<rect x="312.95" y="94.70" width="1.7" height="1.1" fill="#9a9a9a"/>
<rect x="316.02" y="80.20" width="2.16" height="0.80" fill="#959595" fill-opacity="0.6"/><rect x="315.90" y="81.25" width="2.40" height="1.20" fill="#959595" fill-opacity="0.9"/><rect x="315.82" y="82.70" width="2.16" height="1.40" fill="#959595" fill-opacity="1.0"/><rect x="316.14" y="84.25" width="1.92" height="1.20" fill="#959595" fill-opacity="1.0"/><rect x="315.82" y="85.60" width="2.16" height="1.00" fill="#959595" fill-opacity="0.6"/><rect x="315.94" y="86.95" width="1.92" height="0.45" fill="#959595" fill-opacity="0.75"/>
<rect x="316.05" y="88.90" width="1.7" height="1.1" fill="#9a9a9a"/>
<rect x="318.90" y="80.20" width="2.40" height="1.40" fill="#959595" fill-opacity="1.0"/><rect x="318.82" y="81.85" width="2.16" height="0.80" fill="#959595" fill-opacity="0.75"/><rect x="318.50" y="82.90" width="2.40" height="0.80" fill="#959595" fill-opacity="0.9"/><rect x="318.70" y="83.85" width="2.40" height="1.20" fill="#959595" fill-opacity="0.9"/><rect x="318.50" y="85.40" width="2.40" height="1.00" fill="#959595" fill-opacity="0.9"/><rect x="318.74" y="86.75" width="1.92" height="0.65" fill="#959595" fill-opacity="1.0"/>
<rect x="319.05" y="88.90" width="1.7" height="1.1" fill="#9a9a9a"/>
<rect x="321.90" y="80.20" width="2.40" height="0.80" fill="#959595" fill-opacity="0.9"/><rect x="321.74" y="81.35" width="1.92" height="0.80" fill="#959595" fill-opacity="1.0"/><rect x="321.62" y="82.40" width="2.16" height="0.80" fill="#959595" fill-opacity="0.9"/><rect x="321.74" y="83.55" width="1.92" height="0.80" fill="#959595" fill-opacity="0.6"/><rect x="321.50" y="84.60" width="2.40" height="1.20" fill="#959595" fill-opacity="0.75"/><rect x="322.14" y="86.05" width="1.92" height="0.80" fill="#959595" fill-opacity="0.75"/>
<rect x="322.05" y="88.90" width="1.7" height="1.1" fill="#9a9a9a"/>
<rect x="324.74" y="80.20" width="1.92" height="0.80" fill="#959595" fill-opacity="0.6"/><rect x="324.70" y="81.15" width="2.40" height="1.40" fill="#959595" fill-opacity="1.0"/><rect x="325.14" y="82.70" width="1.92" height="0.80" fill="#959595" fill-opacity="0.9"/><rect x="324.74" y="83.65" width="1.92" height="1.20" fill="#959595" fill-opacity="0.9"/><rect x="324.62" y="85.10" width="2.16" height="0.80" fill="#959595" fill-opacity="0.6"/><rect x="324.74" y="86.15" width="1.92" height="1.25" fill="#959595" fill-opacity="0.6"/>
<rect x="325.05" y="88.90" width="1.7" height="1.1" fill="#9a9a9a"/>
<rect x="328.24" y="73.80" width="1.92" height="0.80" fill="#959595" fill-opacity="1.0"/><rect x="327.84" y="74.75" width="1.92" height="1.00" fill="#959595" fill-opacity="0.75"/><rect x="328.04" y="76.10" width="1.92" height="1.00" fill="#959595" fill-opacity="0.9"/><rect x="327.72" y="77.35" width="2.16" height="1.40" fill="#959595" fill-opacity="0.9"/><rect x="327.92" y="78.90" width="2.16" height="1.40" fill="#959595" fill-opacity="0.75"/><rect x="327.84" y="80.55" width="1.92" height="1.40" fill="#959595" fill-opacity="0.6"/><rect x="327.72" y="82.10" width="2.16" height="1.00" fill="#959595" fill-opacity="0.9"/><rect x="327.80" y="83.25" width="2.40" height="0.35" fill="#959595" fill-opacity="1.0"/>
<rect x="327.92" y="84.80" width="2.16" height="1.20" fill="#959595" fill-opacity="1.0"/><rect x="327.92" y="86.35" width="2.16" height="0.80" fill="#959595" fill-opacity="0.6"/><rect x="328.04" y="87.50" width="1.92" height="1.00" fill="#959595" fill-opacity="1.0"/><rect x="327.72" y="88.75" width="2.16" height="1.20" fill="#959595" fill-opacity="0.75"/><rect x="327.84" y="90.20" width="1.92" height="0.80" fill="#959595" fill-opacity="0.9"/><rect x="328.04" y="91.35" width="1.92" height="1.00" fill="#959595" fill-opacity="0.6"/><rect x="327.72" y="92.70" width="2.16" height="0.60" fill="#959595" fill-opacity="1.0"/>
<rect x="328.15" y="94.70" width="1.7" height="1.1" fill="#9a9a9a"/>
<rect x="331.24" y="77.50" width="1.92" height="1.20" fill="#959595" fill-opacity="0.9"/><rect x="330.92" y="78.95" width="2.16" height="1.40" fill="#959595" fill-opacity="0.75"/><rect x="331.12" y="80.70" width="2.16" height="1.00" fill="#959595" fill-opacity="0.75"/><rect x="330.80" y="81.85" width="2.40" height="1.20" fill="#959595" fill-opacity="1.0"/><rect x="331.00" y="83.40" width="2.40" height="0.80" fill="#959595" fill-opacity="1.0"/>
<rect x="331.00" y="85.30" width="2.40" height="1.00" fill="#959595" fill-opacity="0.6"/><rect x="331.24" y="86.45" width="1.92" height="1.20" fill="#959595" fill-opacity="1.0"/><rect x="331.04" y="88.00" width="1.92" height="1.00" fill="#959595" fill-opacity="0.9"/><rect x="331.04" y="89.35" width="1.92" height="0.80" fill="#959595" fill-opacity="0.75"/><rect x="330.80" y="90.30" width="2.40" height="0.80" fill="#959595" fill-opacity="0.6"/>
<rect x="331.15" y="92.20" width="1.7" height="1.1" fill="#9a9a9a"/>
<rect x="334.24" y="80.20" width="1.92" height="1.20" fill="#959595" fill-opacity="0.75"/><rect x="333.72" y="81.65" width="2.16" height="0.80" fill="#959595" fill-opacity="0.75"/><rect x="333.92" y="82.80" width="2.16" height="1.40" fill="#959595" fill-opacity="0.9"/><rect x="333.84" y="84.45" width="1.92" height="1.00" fill="#959595" fill-opacity="0.9"/><rect x="334.24" y="85.70" width="1.92" height="1.20" fill="#959595" fill-opacity="1.0"/>
<rect x="334.15" y="88.90" width="1.7" height="1.1" fill="#9a9a9a"/>
<rect x="336.92" y="80.20" width="2.16" height="1.40" fill="#959595" fill-opacity="0.75"/><rect x="336.72" y="81.95" width="2.16" height="0.80" fill="#959595" fill-opacity="0.75"/><rect x="336.72" y="83.00" width="2.16" height="1.00" fill="#959595" fill-opacity="0.6"/><rect x="337.04" y="84.35" width="1.92" height="1.00" fill="#959595" fill-opacity="1.0"/><rect x="336.80" y="85.50" width="2.40" height="1.40" fill="#959595" fill-opacity="0.6"/>
<rect x="337.15" y="88.90" width="1.7" height="1.1" fill="#9a9a9a"/>
<rect x="340.10" y="73.80" width="2.40" height="1.00" fill="#959595" fill-opacity="0.75"/><rect x="340.30" y="75.15" width="2.40" height="1.20" fill="#959595" fill-opacity="1.0"/><rect x="340.54" y="76.70" width="1.92" height="1.20" fill="#959595" fill-opacity="0.6"/><rect x="340.54" y="78.15" width="1.92" height="0.80" fill="#959595" fill-opacity="0.6"/><rect x="340.34" y="79.10" width="1.92" height="0.80" fill="#959595" fill-opacity="0.9"/><rect x="340.30" y="80.25" width="2.40" height="0.80" fill="#959595" fill-opacity="1.0"/><rect x="339.90" y="81.30" width="2.40" height="1.00" fill="#959595" fill-opacity="0.9"/><rect x="340.42" y="82.55" width="2.16" height="1.05" fill="#959595" fill-opacity="1.0"/>
<rect x="340.30" y="84.80" width="2.40" height="1.40" fill="#959595" fill-opacity="0.6"/><rect x="340.02" y="86.35" width="2.16" height="1.40" fill="#959595" fill-opacity="0.75"/><rect x="339.90" y="87.90" width="2.40" height="1.20" fill="#959595" fill-opacity="0.75"/><rect x="340.14" y="89.45" width="1.92" height="1.00" fill="#959595" fill-opacity="0.9"/><rect x="340.02" y="90.60" width="2.16" height="1.20" fill="#959595" fill-opacity="0.9"/><rect x="340.54" y="91.95" width="1.92" height="1.20" fill="#959595" fill-opacity="0.75"/>
<rect x="340.45" y="94.70" width="1.7" height="1.1" fill="#9a9a9a"/>
<rect x="343.54" y="73.80" width="1.92" height="1.40" fill="#959595" fill-opacity="1.0"/><rect x="343.54" y="75.35" width="1.92" height="0.80" fill="#959595" fill-opacity="1.0"/><rect x="342.90" y="76.40" width="2.40" height="1.20" fill="#959595" fill-opacity="0.75"/><rect x="342.90" y="77.95" width="2.40" height="1.00" fill="#959595" fill-opacity="0.9"/><rect x="343.30" y="79.30" width="2.40" height="1.40" fill="#959595" fill-opacity="0.75"/><rect x="343.14" y="80.85" width="1.92" height="1.40" fill="#959595" fill-opacity="1.0"/><rect x="343.22" y="82.60" width="2.16" height="1.00" fill="#959595" fill-opacity="0.6"/>
<rect x="343.22" y="84.80" width="2.16" height="0.80" fill="#959595" fill-opacity="0.6"/><rect x="343.02" y="85.75" width="2.16" height="0.80" fill="#959595" fill-opacity="0.9"/><rect x="343.42" y="86.70" width="2.16" height="1.20" fill="#959595" fill-opacity="1.0"/><rect x="342.90" y="88.15" width="2.40" height="1.20" fill="#959595" fill-opacity="0.75"/><rect x="343.02" y="89.50" width="2.16" height="0.80" fill="#959595" fill-opacity="1.0"/><rect x="343.54" y="90.65" width="1.92" height="1.20" fill="#959595" fill-opacity="0.9"/><rect x="343.54" y="92.10" width="1.92" height="1.20" fill="#959595" fill-opacity="1.0"/>
<rect x="343.45" y="94.70" width="1.7" height="1.1" fill="#9a9a9a"/>
<rect x="346.74" y="80.20" width="1.92" height="0.80" fill="#959595" fill-opacity="0.9"/><rect x="346.34" y="81.25" width="1.92" height="1.20" fill="#959595" fill-opacity="0.75"/><rect x="346.22" y="82.80" width="2.16" height="0.80" fill="#959595" fill-opacity="0.6"/><rect x="346.50" y="83.85" width="2.40" height="1.20" fill="#959595" fill-opacity="0.75"/><rect x="346.30" y="85.40" width="2.40" height="1.00" fill="#959595" fill-opacity="0.6"/><rect x="346.74" y="86.75" width="1.92" height="0.65" fill="#959595" fill-opacity="1.0"/>
<rect x="346.65" y="88.90" width="1.7" height="1.1" fill="#9a9a9a"/>
<rect x="349.22" y="80.20" width="2.16" height="1.20" fill="#959595" fill-opacity="0.75"/><rect x="349.34" y="81.75" width="1.92" height="1.20" fill="#959595" fill-opacity="0.9"/><rect x="349.34" y="83.10" width="1.92" height="0.80" fill="#959595" fill-opacity="1.0"/><rect x="349.10" y="84.15" width="2.40" height="1.40" fill="#959595" fill-opacity="1.0"/><rect x="349.10" y="85.80" width="2.40" height="0.80" fill="#959595" fill-opacity="0.75"/><rect x="349.30" y="86.75" width="2.40" height="0.65" fill="#959595" fill-opacity="1.0"/>
<rect x="349.65" y="88.90" width="1.7" height="1.1" fill="#9a9a9a"/>
<rect x="352.22" y="73.80" width="2.16" height="0.80" fill="#959595" fill-opacity="1.0"/><rect x="352.74" y="74.75" width="1.92" height="1.20" fill="#959595" fill-opacity="0.6"/><rect x="352.22" y="76.30" width="2.16" height="1.40" fill="#959595" fill-opacity="0.75"/><rect x="352.22" y="78.05" width="2.16" height="0.80" fill="#959595" fill-opacity="1.0"/><rect x="352.10" y="79.10" width="2.40" height="0.80" fill="#959595" fill-opacity="0.75"/><rect x="352.62" y="80.15" width="2.16" height="1.20" fill="#959595" fill-opacity="0.6"/><rect x="352.22" y="81.70" width="2.16" height="1.20" fill="#959595" fill-opacity="0.75"/><rect x="352.62" y="83.25" width="2.16" height="0.35" fill="#959595" fill-opacity="1.0"/>
<rect x="352.50" y="84.80" width="2.40" height="1.00" fill="#959595" fill-opacity="1.0"/><rect x="352.50" y="85.95" width="2.40" height="0.80" fill="#959595" fill-opacity="0.9"/><rect x="352.62" y="87.00" width="2.16" height="1.40" fill="#959595" fill-opacity="0.9"/><rect x="352.62" y="88.75" width="2.16" height="1.00" fill="#959595" fill-opacity="0.9"/><rect x="352.74" y="90.10" width="1.92" height="0.80" fill="#959595" fill-opacity="0.75"/><rect x="352.74" y="91.25" width="1.92" height="1.40" fill="#959595" fill-opacity="0.6"/><rect x="352.62" y="93.00" width="2.16" height="0.30" fill="#959595" fill-opacity="1.0"/>
<rect x="352.65" y="94.70" width="1.7" height="1.1" fill="#9a9a9a"/>
<rect x="355.52" y="73.80" width="2.16" height="1.40" fill="#959595" fill-opacity="1.0"/><rect x="355.80" y="75.35" width="2.40" height="1.00" fill="#959595" fill-opacity="0.75"/><rect x="355.40" y="76.50" width="2.40" height="1.00" fill="#959595" fill-opacity="0.9"/><rect x="356.04" y="77.65" width="1.92" height="1.20" fill="#959595" fill-opacity="1.0"/><rect x="355.80" y="79.10" width="2.40" height="1.00" fill="#959595" fill-opacity="0.6"/><rect x="355.40" y="80.45" width="2.40" height="0.80" fill="#959595" fill-opacity="1.0"/><rect x="355.80" y="81.50" width="2.40" height="1.00" fill="#959595" fill-opacity="0.6"/><rect x="355.60" y="82.85" width="2.40" height="0.75" fill="#959595" fill-opacity="1.0"/>
<rect x="355.60" y="84.80" width="2.40" height="1.00" fill="#959595" fill-opacity="0.75"/><rect x="355.40" y="85.95" width="2.40" height="1.00" fill="#959595" fill-opacity="0.9"/><rect x="355.52" y="87.20" width="2.16" height="1.00" fill="#959595" fill-opacity="0.6"/><rect x="355.52" y="88.35" width="2.16" height="1.00" fill="#959595" fill-opacity="1.0"/><rect x="356.04" y="89.70" width="1.92" height="1.00" fill="#959595" fill-opacity="1.0"/><rect x="355.84" y="90.85" width="1.92" height="0.80" fill="#959595" fill-opacity="0.9"/><rect x="355.52" y="92.00" width="2.16" height="1.20" fill="#959595" fill-opacity="0.6"/>
<rect x="355.95" y="94.70" width="1.7" height="1.1" fill="#9a9a9a"/>
<rect x="358.80" y="73.80" width="2.40" height="1.20" fill="#959595" fill-opacity="0.9"/><rect x="359.12" y="75.15" width="2.16" height="1.20" fill="#959595" fill-opacity="0.6"/><rect x="358.60" y="76.60" width="2.40" height="0.80" fill="#959595" fill-opacity="0.6"/><rect x="358.80" y="77.65" width="2.40" height="1.20" fill="#959595" fill-opacity="0.75"/><rect x="359.04" y="79.00" width="1.92" height="1.40" fill="#959595" fill-opacity="0.6"/><rect x="358.84" y="80.55" width="1.92" height="0.80" fill="#959595" fill-opacity="0.9"/><rect x="359.24" y="81.70" width="1.92" height="1.20" fill="#959595" fill-opacity="1.0"/><rect x="358.84" y="83.15" width="1.92" height="0.45" fill="#959595" fill-opacity="1.0"/>
<rect x="358.80" y="84.80" width="2.40" height="1.00" fill="#959595" fill-opacity="1.0"/><rect x="359.24" y="85.95" width="1.92" height="0.80" fill="#959595" fill-opacity="0.6"/><rect x="359.24" y="87.10" width="1.92" height="1.40" fill="#959595" fill-opacity="1.0"/><rect x="359.00" y="88.75" width="2.40" height="1.40" fill="#959595" fill-opacity="0.75"/><rect x="358.60" y="90.30" width="2.40" height="1.20" fill="#959595" fill-opacity="0.9"/><rect x="358.84" y="91.75" width="1.92" height="1.00" fill="#959595" fill-opacity="0.6"/><rect x="358.80" y="93.00" width="2.40" height="0.30" fill="#959595" fill-opacity="0.9"/>
<rect x="359.15" y="94.70" width="1.7" height="1.1" fill="#9a9a9a"/>
<rect x="361.94" y="73.80" width="1.92" height="1.20" fill="#959595" fill-opacity="0.9"/><rect x="361.74" y="75.35" width="1.92" height="1.40" fill="#959595" fill-opacity="0.9"/><rect x="361.50" y="76.90" width="2.40" height="1.40" fill="#959595" fill-opacity="0.6"/><rect x="361.82" y="78.65" width="2.16" height="1.00" fill="#959595" fill-opacity="0.9"/><rect x="361.90" y="79.80" width="2.40" height="1.20" fill="#959595" fill-opacity="0.9"/><rect x="361.50" y="81.35" width="2.40" height="1.00" fill="#959595" fill-opacity="0.6"/><rect x="361.82" y="82.50" width="2.16" height="1.10" fill="#959595" fill-opacity="0.6"/>
<rect x="361.82" y="84.80" width="2.16" height="1.00" fill="#959595" fill-opacity="0.6"/><rect x="362.02" y="86.15" width="2.16" height="1.20" fill="#959595" fill-opacity="0.75"/><rect x="362.14" y="87.70" width="1.92" height="1.40" fill="#959595" fill-opacity="0.9"/><rect x="361.70" y="89.35" width="2.40" height="1.20" fill="#959595" fill-opacity="1.0"/><rect x="361.74" y="90.70" width="1.92" height="1.00" fill="#959595" fill-opacity="0.9"/><rect x="361.82" y="91.85" width="2.16" height="0.80" fill="#959595" fill-opacity="1.0"/><rect x="361.50" y="92.90" width="2.40" height="0.40" fill="#959595" fill-opacity="0.75"/>
<rect x="362.05" y="94.70" width="1.7" height="1.1" fill="#9a9a9a"/>
<rect x="365.02" y="73.80" width="2.16" height="1.20" fill="#959595" fill-opacity="0.9"/><rect x="365.14" y="75.35" width="1.92" height="1.20" fill="#959595" fill-opacity="0.6"/><rect x="364.70" y="76.70" width="2.40" height="1.00" fill="#959595" fill-opacity="0.9"/><rect x="364.50" y="77.95" width="2.40" height="1.20" fill="#959595" fill-opacity="1.0"/><rect x="364.82" y="79.40" width="2.16" height="1.20" fill="#959595" fill-opacity="0.75"/><rect x="364.70" y="80.95" width="2.40" height="0.80" fill="#959595" fill-opacity="0.75"/><rect x="364.94" y="81.90" width="1.92" height="0.80" fill="#959595" fill-opacity="0.75"/><rect x="364.90" y="82.95" width="2.40" height="0.65" fill="#959595" fill-opacity="0.9"/>
<rect x="364.50" y="84.80" width="2.40" height="1.00" fill="#959595" fill-opacity="0.75"/><rect x="365.14" y="85.95" width="1.92" height="0.80" fill="#959595" fill-opacity="0.6"/><rect x="364.94" y="87.00" width="1.92" height="1.00" fill="#959595" fill-opacity="0.6"/><rect x="364.74" y="88.35" width="1.92" height="0.80" fill="#959595" fill-opacity="0.9"/><rect x="364.70" y="89.40" width="2.40" height="1.20" fill="#959595" fill-opacity="0.6"/><rect x="364.94" y="90.85" width="1.92" height="1.20" fill="#959595" fill-opacity="0.75"/><rect x="365.02" y="92.20" width="2.16" height="0.80" fill="#959595" fill-opacity="0.9"/>
<rect x="365.05" y="94.70" width="1.7" height="1.1" fill="#9a9a9a"/>
<rect x="367.84" y="73.80" width="1.92" height="1.20" fill="#959595" fill-opacity="1.0"/><rect x="368.12" y="75.25" width="2.16" height="1.20" fill="#959595" fill-opacity="0.6"/><rect x="367.84" y="76.80" width="1.92" height="1.20" fill="#959595" fill-opacity="0.75"/><rect x="367.60" y="78.15" width="2.40" height="1.00" fill="#959595" fill-opacity="0.75"/><rect x="368.12" y="79.40" width="2.16" height="1.20" fill="#959595" fill-opacity="1.0"/><rect x="368.24" y="80.95" width="1.92" height="1.00" fill="#959595" fill-opacity="0.9"/><rect x="368.24" y="82.30" width="1.92" height="1.20" fill="#959595" fill-opacity="1.0"/>
<rect x="368.12" y="84.80" width="2.16" height="1.40" fill="#959595" fill-opacity="0.9"/><rect x="367.72" y="86.55" width="2.16" height="1.20" fill="#959595" fill-opacity="0.75"/><rect x="367.80" y="88.10" width="2.40" height="1.40" fill="#959595" fill-opacity="0.6"/><rect x="367.84" y="89.65" width="1.92" height="1.00" fill="#959595" fill-opacity="1.0"/><rect x="368.24" y="91.00" width="1.92" height="1.00" fill="#959595" fill-opacity="0.6"/><rect x="368.12" y="92.35" width="2.16" height="0.95" fill="#959595" fill-opacity="0.75"/>
<rect x="368.15" y="94.70" width="1.7" height="1.1" fill="#9a9a9a"/>
<rect x="370.60" y="73.80" width="2.40" height="1.00" fill="#959595" fill-opacity="0.75"/><rect x="370.60" y="75.15" width="2.40" height="0.80" fill="#959595" fill-opacity="0.9"/><rect x="370.80" y="76.20" width="2.40" height="1.40" fill="#959595" fill-opacity="0.75"/><rect x="370.72" y="77.85" width="2.16" height="1.40" fill="#959595" fill-opacity="0.75"/><rect x="370.80" y="79.40" width="2.40" height="0.80" fill="#959595" fill-opacity="0.6"/><rect x="371.24" y="80.55" width="1.92" height="1.20" fill="#959595" fill-opacity="0.6"/><rect x="371.00" y="82.00" width="2.40" height="1.40" fill="#959595" fill-opacity="1.0"/>
<rect x="371.04" y="84.80" width="1.92" height="0.80" fill="#959595" fill-opacity="0.9"/><rect x="371.04" y="85.95" width="1.92" height="1.40" fill="#959595" fill-opacity="0.75"/><rect x="370.80" y="87.50" width="2.40" height="1.20" fill="#959595" fill-opacity="1.0"/><rect x="370.60" y="88.95" width="2.40" height="1.40" fill="#959595" fill-opacity="0.75"/><rect x="370.92" y="90.60" width="2.16" height="1.20" fill="#959595" fill-opacity="0.75"/><rect x="370.72" y="91.95" width="2.16" height="1.20" fill="#959595" fill-opacity="0.6"/>
<rect x="371.15" y="94.70" width="1.7" height="1.1" fill="#9a9a9a"/>
<rect x="374.44" y="80.20" width="1.92" height="1.20" fill="#959595" fill-opacity="1.0"/><rect x="374.24" y="81.55" width="1.92" height="1.00" fill="#959595" fill-opacity="0.9"/><rect x="374.32" y="82.70" width="2.16" height="1.40" fill="#959595" fill-opacity="0.75"/><rect x="374.04" y="84.25" width="1.92" height="0.80" fill="#959595" fill-opacity="0.75"/><rect x="374.04" y="85.30" width="1.92" height="1.00" fill="#959595" fill-opacity="0.9"/><rect x="374.12" y="86.55" width="2.16" height="0.85" fill="#959595" fill-opacity="0.6"/>
<rect x="374.35" y="88.90" width="1.7" height="1.1" fill="#9a9a9a"/>
<rect x="377.54" y="80.20" width="1.92" height="1.40" fill="#959595" fill-opacity="0.9"/><rect x="377.14" y="81.75" width="1.92" height="1.00" fill="#959595" fill-opacity="0.6"/><rect x="376.90" y="83.10" width="2.40" height="1.00" fill="#959595" fill-opacity="1.0"/><rect x="377.02" y="84.45" width="2.16" height="0.80" fill="#959595" fill-opacity="0.6"/><rect x="377.54" y="85.40" width="1.92" height="0.80" fill="#959595" fill-opacity="1.0"/><rect x="377.54" y="86.45" width="1.92" height="0.80" fill="#959595" fill-opacity="0.75"/>
<rect x="377.45" y="88.90" width="1.7" height="1.1" fill="#9a9a9a"/>
<rect x="380.40" y="73.80" width="2.40" height="1.00" fill="#959595" fill-opacity="0.6"/><rect x="380.44" y="75.05" width="1.92" height="0.80" fill="#959595" fill-opacity="0.9"/><rect x="380.20" y="76.20" width="2.40" height="0.80" fill="#959595" fill-opacity="0.9"/><rect x="380.44" y="77.15" width="1.92" height="1.20" fill="#959595" fill-opacity="0.9"/><rect x="380.40" y="78.50" width="2.40" height="0.80" fill="#959595" fill-opacity="1.0"/><rect x="380.20" y="79.55" width="2.40" height="0.80" fill="#959595" fill-opacity="0.9"/><rect x="380.40" y="80.70" width="2.40" height="1.40" fill="#959595" fill-opacity="0.9"/><rect x="380.52" y="82.45" width="2.16" height="1.15" fill="#959595" fill-opacity="0.9"/>
<rect x="380.64" y="84.80" width="1.92" height="1.40" fill="#959595" fill-opacity="1.0"/><rect x="380.20" y="86.45" width="2.40" height="1.40" fill="#959595" fill-opacity="0.75"/><rect x="380.44" y="88.00" width="1.92" height="1.20" fill="#959595" fill-opacity="1.0"/><rect x="380.20" y="89.55" width="2.40" height="0.80" fill="#959595" fill-opacity="0.6"/><rect x="380.60" y="90.70" width="2.40" height="0.80" fill="#959595" fill-opacity="1.0"/><rect x="380.72" y="91.75" width="2.16" height="1.40" fill="#959595" fill-opacity="0.9"/>
<rect x="380.75" y="94.70" width="1.7" height="1.1" fill="#9a9a9a"/>
<rect x="383.30" y="73.80" width="2.40" height="1.40" fill="#959595" fill-opacity="1.0"/><rect x="383.50" y="75.55" width="2.40" height="1.40" fill="#959595" fill-opacity="0.75"/><rect x="383.62" y="77.20" width="2.16" height="1.20" fill="#959595" fill-opacity="0.6"/><rect x="383.50" y="78.65" width="2.40" height="1.20" fill="#959595" fill-opacity="0.6"/><rect x="383.42" y="80.20" width="2.16" height="1.00" fill="#959595" fill-opacity="0.9"/><rect x="383.10" y="81.55" width="2.40" height="1.20" fill="#959595" fill-opacity="1.0"/><rect x="383.10" y="82.90" width="2.40" height="0.70" fill="#959595" fill-opacity="0.9"/>
<rect x="383.74" y="84.80" width="1.92" height="1.00" fill="#959595" fill-opacity="0.9"/><rect x="383.74" y="85.95" width="1.92" height="1.00" fill="#959595" fill-opacity="1.0"/><rect x="383.42" y="87.30" width="2.16" height="0.80" fill="#959595" fill-opacity="0.9"/><rect x="383.74" y="88.35" width="1.92" height="0.80" fill="#959595" fill-opacity="1.0"/><rect x="383.42" y="89.40" width="2.16" height="1.40" fill="#959595" fill-opacity="0.6"/><rect x="383.10" y="91.15" width="2.40" height="1.20" fill="#959595" fill-opacity="1.0"/><rect x="383.62" y="92.60" width="2.16" height="0.70" fill="#959595" fill-opacity="0.9"/>
<rect x="383.65" y="94.70" width="1.7" height="1.1" fill="#9a9a9a"/>
<rect x="386.20" y="80.20" width="2.40" height="1.40" fill="#959595" fill-opacity="1.0"/><rect x="386.20" y="81.95" width="2.40" height="1.00" fill="#959595" fill-opacity="0.6"/><rect x="386.40" y="83.20" width="2.40" height="1.40" fill="#959595" fill-opacity="0.75"/><rect x="386.32" y="84.95" width="2.16" height="1.20" fill="#959595" fill-opacity="1.0"/><rect x="386.40" y="86.50" width="2.40" height="0.90" fill="#959595" fill-opacity="0.6"/>
<rect x="386.75" y="88.90" width="1.7" height="1.1" fill="#9a9a9a"/>
<rect x="390.00" y="73.80" width="2.40" height="1.00" fill="#959595" fill-opacity="0.9"/><rect x="390.04" y="75.05" width="1.92" height="1.20" fill="#959595" fill-opacity="0.9"/><rect x="389.84" y="76.50" width="1.92" height="0.80" fill="#959595" fill-opacity="1.0"/><rect x="389.80" y="77.45" width="2.40" height="1.40" fill="#959595" fill-opacity="0.9"/><rect x="389.72" y="79.00" width="2.16" height="1.40" fill="#959595" fill-opacity="1.0"/><rect x="390.12" y="80.75" width="2.16" height="1.20" fill="#959595" fill-opacity="1.0"/><rect x="390.04" y="82.30" width="1.92" height="1.20" fill="#959595" fill-opacity="0.9"/>
<rect x="390.00" y="84.80" width="2.40" height="1.00" fill="#959595" fill-opacity="0.75"/><rect x="389.72" y="86.05" width="2.16" height="0.80" fill="#959595" fill-opacity="0.75"/><rect x="390.12" y="87.00" width="2.16" height="1.40" fill="#959595" fill-opacity="1.0"/><rect x="390.24" y="88.65" width="1.92" height="1.40" fill="#959595" fill-opacity="0.6"/><rect x="389.80" y="90.40" width="2.40" height="1.40" fill="#959595" fill-opacity="1.0"/><rect x="390.04" y="92.05" width="1.92" height="1.25" fill="#959595" fill-opacity="0.75"/>
<rect x="390.15" y="94.70" width="1.7" height="1.1" fill="#9a9a9a"/>
<rect x="392.50" y="73.80" width="2.40" height="1.40" fill="#959595" fill-opacity="0.75"/><rect x="393.02" y="75.55" width="2.16" height="1.00" fill="#959595" fill-opacity="0.75"/><rect x="392.82" y="76.70" width="2.16" height="1.20" fill="#959595" fill-opacity="0.9"/><rect x="393.14" y="78.05" width="1.92" height="0.80" fill="#959595" fill-opacity="0.75"/><rect x="392.74" y="79.00" width="1.92" height="0.80" fill="#959595" fill-opacity="1.0"/><rect x="392.50" y="80.15" width="2.40" height="1.40" fill="#959595" fill-opacity="0.6"/><rect x="393.14" y="81.90" width="1.92" height="1.20" fill="#959595" fill-opacity="1.0"/>
<rect x="392.62" y="84.80" width="2.16" height="1.40" fill="#959595" fill-opacity="0.75"/><rect x="392.62" y="86.55" width="2.16" height="1.00" fill="#959595" fill-opacity="0.9"/><rect x="392.70" y="87.90" width="2.40" height="0.80" fill="#959595" fill-opacity="0.75"/><rect x="392.82" y="89.05" width="2.16" height="1.20" fill="#959595" fill-opacity="0.6"/><rect x="392.70" y="90.50" width="2.40" height="1.20" fill="#959595" fill-opacity="1.0"/><rect x="392.62" y="92.05" width="2.16" height="0.80" fill="#959595" fill-opacity="0.9"/>
<rect x="393.05" y="94.70" width="1.7" height="1.1" fill="#9a9a9a"/>
<rect x="395.62" y="80.20" width="2.16" height="1.40" fill="#959595" fill-opacity="0.9"/><rect x="395.90" y="81.75" width="2.40" height="0.80" fill="#959595" fill-opacity="0.75"/><rect x="395.90" y="82.80" width="2.40" height="1.40" fill="#959595" fill-opacity="1.0"/><rect x="395.94" y="84.35" width="1.92" height="1.20" fill="#959595" fill-opacity="0.9"/><rect x="396.14" y="85.90" width="1.92" height="0.80" fill="#959595" fill-opacity="0.9"/><rect x="395.94" y="86.85" width="1.92" height="0.55" fill="#959595" fill-opacity="0.9"/>
<rect x="396.05" y="88.90" width="1.7" height="1.1" fill="#9a9a9a"/>
<rect x="399.34" y="72.30" width="1.92" height="1.40" fill="#959595" fill-opacity="0.9"/><rect x="398.90" y="73.85" width="2.40" height="1.40" fill="#959595" fill-opacity="1.0"/><rect x="399.14" y="75.40" width="1.92" height="1.00" fill="#959595" fill-opacity="0.6"/><rect x="398.94" y="76.75" width="1.92" height="0.80" fill="#959595" fill-opacity="0.6"/><rect x="399.34" y="77.90" width="1.92" height="1.40" fill="#959595" fill-opacity="0.75"/><rect x="399.34" y="79.65" width="1.92" height="1.00" fill="#959595" fill-opacity="1.0"/><rect x="398.70" y="81.00" width="2.40" height="1.20" fill="#959595" fill-opacity="0.75"/><rect x="398.82" y="82.35" width="2.16" height="1.00" fill="#959595" fill-opacity="0.6"/>
<rect x="398.82" y="84.80" width="2.16" height="0.80" fill="#959595" fill-opacity="0.6"/><rect x="398.90" y="85.95" width="2.40" height="1.20" fill="#959595" fill-opacity="1.0"/><rect x="398.94" y="87.30" width="1.92" height="0.80" fill="#959595" fill-opacity="0.75"/><rect x="398.90" y="88.35" width="2.40" height="1.20" fill="#959595" fill-opacity="0.75"/><rect x="399.02" y="89.90" width="2.16" height="1.00" fill="#959595" fill-opacity="0.9"/><rect x="398.70" y="91.25" width="2.40" height="1.00" fill="#959595" fill-opacity="0.75"/><rect x="398.82" y="92.50" width="2.16" height="0.80" fill="#959595" fill-opacity="0.9"/><rect x="399.10" y="93.65" width="2.40" height="1.20" fill="#959595" fill-opacity="0.75"/>
<rect x="399.25" y="96.40" width="1.7" height="1.1" fill="#9a9a9a"/>
<rect x="401.82" y="77.50" width="2.16" height="0.80" fill="#959595" fill-opacity="0.75"/><rect x="402.22" y="78.65" width="2.16" height="1.00" fill="#959595" fill-opacity="1.0"/><rect x="401.82" y="79.90" width="2.16" height="0.80" fill="#959595" fill-opacity="0.6"/><rect x="402.02" y="81.05" width="2.16" height="1.00" fill="#959595" fill-opacity="0.6"/><rect x="401.94" y="82.30" width="1.92" height="0.80" fill="#959595" fill-opacity="1.0"/><rect x="402.10" y="83.35" width="2.40" height="0.85" fill="#959595" fill-opacity="0.9"/>
<rect x="402.14" y="85.30" width="1.92" height="0.80" fill="#959595" fill-opacity="0.75"/><rect x="402.34" y="86.35" width="1.92" height="1.00" fill="#959595" fill-opacity="0.9"/><rect x="401.82" y="87.70" width="2.16" height="0.80" fill="#959595" fill-opacity="0.6"/><rect x="402.14" y="88.65" width="1.92" height="1.20" fill="#959595" fill-opacity="0.6"/><rect x="402.14" y="90.10" width="1.92" height="1.20" fill="#959595" fill-opacity="1.0"/>
<rect x="402.25" y="92.20" width="1.7" height="1.1" fill="#9a9a9a"/>
<rect x="405.04" y="80.20" width="1.92" height="1.20" fill="#959595" fill-opacity="0.75"/><rect x="405.00" y="81.55" width="2.40" height="1.40" fill="#959595" fill-opacity="0.6"/><rect x="404.72" y="83.10" width="2.16" height="1.00" fill="#959595" fill-opacity="1.0"/><rect x="405.12" y="84.25" width="2.16" height="0.80" fill="#959595" fill-opacity="0.6"/><rect x="404.80" y="85.40" width="2.40" height="1.00" fill="#959595" fill-opacity="1.0"/><rect x="404.72" y="86.55" width="2.16" height="0.85" fill="#959595" fill-opacity="0.75"/>
<rect x="405.15" y="88.90" width="1.7" height="1.1" fill="#9a9a9a"/>
<rect x="408.54" y="73.80" width="1.92" height="0.80" fill="#959595" fill-opacity="0.9"/><rect x="408.02" y="74.85" width="2.16" height="1.20" fill="#959595" fill-opacity="0.75"/><rect x="408.34" y="76.20" width="1.92" height="1.00" fill="#959595" fill-opacity="0.6"/><rect x="408.02" y="77.45" width="2.16" height="0.80" fill="#959595" fill-opacity="0.9"/><rect x="408.02" y="78.40" width="2.16" height="0.80" fill="#959595" fill-opacity="0.9"/><rect x="408.14" y="79.45" width="1.92" height="1.40" fill="#959595" fill-opacity="0.75"/><rect x="408.14" y="81.20" width="1.92" height="1.00" fill="#959595" fill-opacity="0.6"/><rect x="408.30" y="82.35" width="2.40" height="1.25" fill="#959595" fill-opacity="0.75"/>
<rect x="408.34" y="84.80" width="1.92" height="0.80" fill="#959595" fill-opacity="0.75"/><rect x="408.30" y="85.75" width="2.40" height="1.40" fill="#959595" fill-opacity="1.0"/><rect x="408.54" y="87.30" width="1.92" height="1.20" fill="#959595" fill-opacity="0.6"/><rect x="408.54" y="88.85" width="1.92" height="1.00" fill="#959595" fill-opacity="0.75"/><rect x="408.54" y="90.20" width="1.92" height="0.80" fill="#959595" fill-opacity="0.75"/><rect x="408.54" y="91.25" width="1.92" height="0.80" fill="#959595" fill-opacity="0.6"/><rect x="408.02" y="92.40" width="2.16" height="0.90" fill="#959595" fill-opacity="0.9"/>
<rect x="408.45" y="94.70" width="1.7" height="1.1" fill="#9a9a9a"/>
<rect x="411.42" y="77.50" width="2.16" height="1.00" fill="#959595" fill-opacity="0.6"/><rect x="411.34" y="78.75" width="1.92" height="0.80" fill="#959595" fill-opacity="0.6"/><rect x="411.22" y="79.90" width="2.16" height="1.00" fill="#959595" fill-opacity="0.75"/><rect x="411.30" y="81.05" width="2.40" height="1.00" fill="#959595" fill-opacity="0.75"/><rect x="411.22" y="82.40" width="2.16" height="0.80" fill="#959595" fill-opacity="0.6"/><rect x="411.50" y="83.45" width="2.40" height="0.75" fill="#959595" fill-opacity="0.6"/>
<rect x="411.42" y="85.30" width="2.16" height="1.00" fill="#959595" fill-opacity="0.6"/><rect x="411.62" y="86.45" width="2.16" height="1.20" fill="#959595" fill-opacity="0.75"/><rect x="411.62" y="88.00" width="2.16" height="1.40" fill="#959595" fill-opacity="0.75"/><rect x="411.50" y="89.65" width="2.40" height="0.80" fill="#959595" fill-opacity="1.0"/><rect x="411.50" y="90.60" width="2.40" height="0.70" fill="#959595" fill-opacity="1.0"/>
<rect x="411.65" y="92.20" width="1.7" height="1.1" fill="#9a9a9a"/>
<rect x="414.32" y="73.80" width="2.16" height="0.80" fill="#959595" fill-opacity="0.6"/><rect x="414.20" y="74.75" width="2.40" height="1.00" fill="#959595" fill-opacity="1.0"/><rect x="414.40" y="76.00" width="2.40" height="0.80" fill="#959595" fill-opacity="1.0"/><rect x="414.32" y="77.15" width="2.16" height="1.20" fill="#959595" fill-opacity="1.0"/><rect x="414.32" y="78.50" width="2.16" height="1.20" fill="#959595" fill-opacity="1.0"/><rect x="414.64" y="79.95" width="1.92" height="1.40" fill="#959595" fill-opacity="0.6"/><rect x="414.32" y="81.60" width="2.16" height="1.40" fill="#959595" fill-opacity="0.9"/><rect x="414.52" y="83.25" width="2.16" height="0.35" fill="#959595" fill-opacity="0.6"/>
<rect x="414.32" y="84.80" width="2.16" height="0.80" fill="#959595" fill-opacity="0.9"/><rect x="414.72" y="85.85" width="2.16" height="1.00" fill="#959595" fill-opacity="1.0"/><rect x="414.84" y="87.20" width="1.92" height="1.00" fill="#959595" fill-opacity="0.6"/><rect x="414.64" y="88.55" width="1.92" height="0.80" fill="#959595" fill-opacity="1.0"/><rect x="414.32" y="89.60" width="2.16" height="1.20" fill="#959595" fill-opacity="0.75"/><rect x="414.52" y="90.95" width="2.16" height="1.20" fill="#959595" fill-opacity="1.0"/><rect x="414.72" y="92.40" width="2.16" height="0.90" fill="#959595" fill-opacity="0.75"/>
<rect x="414.75" y="94.70" width="1.7" height="1.1" fill="#9a9a9a"/>
<rect x="417.44" y="73.80" width="1.92" height="0.80" fill="#959595" fill-opacity="0.75"/><rect x="417.20" y="74.85" width="2.40" height="1.20" fill="#959595" fill-opacity="0.9"/><rect x="417.72" y="76.40" width="2.16" height="1.40" fill="#959595" fill-opacity="0.75"/><rect x="417.52" y="78.05" width="2.16" height="0.80" fill="#959595" fill-opacity="0.9"/><rect x="417.60" y="79.10" width="2.40" height="1.20" fill="#959595" fill-opacity="0.9"/><rect x="417.40" y="80.65" width="2.40" height="1.40" fill="#959595" fill-opacity="0.6"/><rect x="417.84" y="82.30" width="1.92" height="1.20" fill="#959595" fill-opacity="0.6"/>
<rect x="417.72" y="84.80" width="2.16" height="1.40" fill="#959595" fill-opacity="1.0"/><rect x="417.52" y="86.35" width="2.16" height="1.40" fill="#959595" fill-opacity="0.6"/><rect x="417.44" y="87.90" width="1.92" height="0.80" fill="#959595" fill-opacity="0.9"/><rect x="417.84" y="89.05" width="1.92" height="0.80" fill="#959595" fill-opacity="1.0"/><rect x="417.72" y="90.20" width="2.16" height="1.20" fill="#959595" fill-opacity="0.75"/><rect x="417.20" y="91.55" width="2.40" height="1.40" fill="#959595" fill-opacity="1.0"/>
<rect x="417.75" y="94.70" width="1.7" height="1.1" fill="#9a9a9a"/>
<rect x="420.60" y="73.80" width="2.40" height="1.40" fill="#959595" fill-opacity="1.0"/><rect x="421.04" y="75.55" width="1.92" height="1.20" fill="#959595" fill-opacity="0.9"/><rect x="420.64" y="77.00" width="1.92" height="0.80" fill="#959595" fill-opacity="0.9"/><rect x="420.92" y="78.15" width="2.16" height="0.80" fill="#959595" fill-opacity="0.75"/><rect x="421.04" y="79.30" width="1.92" height="1.00" fill="#959595" fill-opacity="0.9"/><rect x="420.40" y="80.55" width="2.40" height="1.40" fill="#959595" fill-opacity="0.9"/><rect x="421.04" y="82.20" width="1.92" height="1.20" fill="#959595" fill-opacity="1.0"/>
<rect x="421.04" y="84.80" width="1.92" height="1.40" fill="#959595" fill-opacity="1.0"/><rect x="420.72" y="86.45" width="2.16" height="1.20" fill="#959595" fill-opacity="1.0"/><rect x="421.04" y="87.90" width="1.92" height="1.20" fill="#959595" fill-opacity="0.6"/><rect x="420.52" y="89.35" width="2.16" height="1.40" fill="#959595" fill-opacity="0.75"/><rect x="420.80" y="90.90" width="2.40" height="1.20" fill="#959595" fill-opacity="1.0"/><rect x="420.72" y="92.45" width="2.16" height="0.85" fill="#959595" fill-opacity="0.6"/>
<rect x="420.95" y="94.70" width="1.7" height="1.1" fill="#9a9a9a"/>
<rect x="423.60" y="72.30" width="2.40" height="1.40" fill="#959595" fill-opacity="0.9"/><rect x="424.24" y="73.95" width="1.92" height="1.40" fill="#959595" fill-opacity="0.6"/><rect x="423.80" y="75.70" width="2.40" height="1.20" fill="#959595" fill-opacity="0.9"/><rect x="423.60" y="77.15" width="2.40" height="1.00" fill="#959595" fill-opacity="0.6"/><rect x="423.72" y="78.50" width="2.16" height="1.40" fill="#959595" fill-opacity="0.6"/><rect x="423.92" y="80.25" width="2.16" height="1.00" fill="#959595" fill-opacity="0.6"/><rect x="423.92" y="81.60" width="2.16" height="1.20" fill="#959595" fill-opacity="1.0"/><rect x="423.60" y="83.05" width="2.40" height="0.55" fill="#959595" fill-opacity="0.75"/>
<rect x="423.84" y="84.80" width="1.92" height="1.40" fill="#959595" fill-opacity="0.9"/><rect x="424.24" y="86.45" width="1.92" height="0.80" fill="#959595" fill-opacity="1.0"/><rect x="423.72" y="87.40" width="2.16" height="1.00" fill="#959595" fill-opacity="1.0"/><rect x="423.84" y="88.75" width="1.92" height="1.20" fill="#959595" fill-opacity="0.75"/><rect x="423.72" y="90.30" width="2.16" height="1.00" fill="#959595" fill-opacity="0.6"/><rect x="424.24" y="91.65" width="1.92" height="1.40" fill="#959595" fill-opacity="0.9"/><rect x="423.60" y="93.40" width="2.40" height="1.40" fill="#959595" fill-opacity="0.9"/>
<rect x="424.15" y="96.40" width="1.7" height="1.1" fill="#9a9a9a"/>
<rect x="427.54" y="73.80" width="1.92" height="1.20" fill="#959595" fill-opacity="0.75"/><rect x="427.22" y="75.15" width="2.16" height="1.20" fill="#959595" fill-opacity="0.6"/><rect x="427.22" y="76.70" width="2.16" height="0.80" fill="#959595" fill-opacity="0.6"/><rect x="427.42" y="77.65" width="2.16" height="1.40" fill="#959595" fill-opacity="0.75"/><rect x="427.50" y="79.40" width="2.40" height="0.80" fill="#959595" fill-opacity="1.0"/><rect x="427.30" y="80.55" width="2.40" height="0.80" fill="#959595" fill-opacity="0.6"/><rect x="427.62" y="81.50" width="2.16" height="1.40" fill="#959595" fill-opacity="0.75"/><rect x="427.74" y="83.15" width="1.92" height="0.45" fill="#959595" fill-opacity="0.75"/>
<rect x="427.34" y="84.80" width="1.92" height="1.20" fill="#959595" fill-opacity="0.6"/><rect x="427.22" y="86.15" width="2.16" height="1.20" fill="#959595" fill-opacity="1.0"/><rect x="427.10" y="87.70" width="2.40" height="1.20" fill="#959595" fill-opacity="0.6"/><rect x="427.74" y="89.15" width="1.92" height="1.40" fill="#959595" fill-opacity="1.0"/><rect x="427.30" y="90.70" width="2.40" height="1.20" fill="#959595" fill-opacity="0.9"/><rect x="427.42" y="92.05" width="2.16" height="1.25" fill="#959595" fill-opacity="0.75"/>
<rect x="427.65" y="94.70" width="1.7" height="1.1" fill="#9a9a9a"/>
<rect x="430.72" y="73.80" width="2.16" height="1.40" fill="#959595" fill-opacity="0.75"/><rect x="430.64" y="75.35" width="1.92" height="0.80" fill="#959595" fill-opacity="1.0"/><rect x="430.32" y="76.30" width="2.16" height="0.80" fill="#959595" fill-opacity="0.6"/><rect x="430.84" y="77.45" width="1.92" height="1.00" fill="#959595" fill-opacity="0.9"/><rect x="430.60" y="78.80" width="2.40" height="1.20" fill="#959595" fill-opacity="0.6"/><rect x="430.32" y="80.35" width="2.16" height="0.80" fill="#959595" fill-opacity="0.6"/><rect x="430.40" y="81.40" width="2.40" height="0.80" fill="#959595" fill-opacity="0.9"/><rect x="430.52" y="82.55" width="2.16" height="1.00" fill="#959595" fill-opacity="0.9"/>
<rect x="430.40" y="84.80" width="2.40" height="0.80" fill="#959595" fill-opacity="0.75"/><rect x="430.64" y="85.85" width="1.92" height="0.80" fill="#959595" fill-opacity="1.0"/><rect x="430.52" y="86.80" width="2.16" height="1.00" fill="#959595" fill-opacity="0.9"/><rect x="430.32" y="87.95" width="2.16" height="1.20" fill="#959595" fill-opacity="0.9"/><rect x="430.64" y="89.30" width="1.92" height="1.20" fill="#959595" fill-opacity="1.0"/><rect x="430.40" y="90.75" width="2.40" height="0.80" fill="#959595" fill-opacity="0.75"/><rect x="430.64" y="91.90" width="1.92" height="1.40" fill="#959595" fill-opacity="1.0"/>
<rect x="430.75" y="94.70" width="1.7" height="1.1" fill="#9a9a9a"/>
<rect x="433.64" y="80.20" width="1.92" height="1.00" fill="#959595" fill-opacity="0.6"/><rect x="433.64" y="81.55" width="1.92" height="1.40" fill="#959595" fill-opacity="0.6"/><rect x="433.80" y="83.20" width="2.40" height="0.80" fill="#959595" fill-opacity="0.75"/><rect x="433.80" y="84.15" width="2.40" height="1.20" fill="#959595" fill-opacity="0.9"/><rect x="433.64" y="85.60" width="1.92" height="1.40" fill="#959595" fill-opacity="0.75"/><rect x="433.64" y="87.15" width="1.92" height="0.25" fill="#959595" fill-opacity="1.0"/>
<rect x="433.95" y="88.90" width="1.7" height="1.1" fill="#9a9a9a"/>
<rect x="436.72" y="80.20" width="2.16" height="1.00" fill="#959595" fill-opacity="0.75"/><rect x="436.80" y="81.55" width="2.40" height="1.40" fill="#959595" fill-opacity="0.6"/><rect x="436.84" y="83.30" width="1.92" height="0.80" fill="#959595" fill-opacity="1.0"/><rect x="436.60" y="84.45" width="2.40" height="1.00" fill="#959595" fill-opacity="1.0"/><rect x="436.92" y="85.80" width="2.16" height="1.00" fill="#959595" fill-opacity="0.6"/><rect x="436.64" y="87.05" width="1.92" height="0.35" fill="#959595" fill-opacity="0.75"/>
<rect x="436.95" y="88.90" width="1.7" height="1.1" fill="#9a9a9a"/>
<rect x="439.64" y="73.80" width="1.92" height="1.00" fill="#959595" fill-opacity="0.6"/><rect x="439.52" y="74.95" width="2.16" height="0.80" fill="#959595" fill-opacity="0.6"/><rect x="439.40" y="76.00" width="2.40" height="1.00" fill="#959595" fill-opacity="0.75"/><rect x="439.64" y="77.35" width="1.92" height="1.40" fill="#959595" fill-opacity="0.9"/><rect x="440.04" y="79.00" width="1.92" height="0.80" fill="#959595" fill-opacity="1.0"/><rect x="439.40" y="79.95" width="2.40" height="1.00" fill="#959595" fill-opacity="0.75"/><rect x="439.60" y="81.30" width="2.40" height="1.20" fill="#959595" fill-opacity="0.6"/><rect x="439.80" y="82.65" width="2.40" height="0.80" fill="#959595" fill-opacity="0.6"/>
<rect x="439.80" y="84.80" width="2.40" height="0.80" fill="#959595" fill-opacity="0.6"/><rect x="439.92" y="85.95" width="2.16" height="1.20" fill="#959595" fill-opacity="1.0"/><rect x="440.04" y="87.30" width="1.92" height="1.00" fill="#959595" fill-opacity="0.6"/><rect x="439.80" y="88.55" width="2.40" height="1.00" fill="#959595" fill-opacity="0.6"/><rect x="440.04" y="89.90" width="1.92" height="1.00" fill="#959595" fill-opacity="1.0"/><rect x="440.04" y="91.05" width="1.92" height="1.20" fill="#959595" fill-opacity="0.6"/><rect x="439.72" y="92.40" width="2.16" height="0.80" fill="#959595" fill-opacity="0.6"/>
<rect x="439.95" y="94.70" width="1.7" height="1.1" fill="#9a9a9a"/>
<rect x="442.94" y="77.50" width="1.92" height="1.20" fill="#959595" fill-opacity="0.9"/><rect x="442.74" y="79.05" width="1.92" height="1.20" fill="#959595" fill-opacity="0.75"/><rect x="442.90" y="80.40" width="2.40" height="0.80" fill="#959595" fill-opacity="0.6"/><rect x="442.82" y="81.55" width="2.16" height="1.00" fill="#959595" fill-opacity="1.0"/><rect x="442.74" y="82.90" width="1.92" height="1.00" fill="#959595" fill-opacity="0.6"/>
<rect x="442.62" y="85.30" width="2.16" height="0.80" fill="#959595" fill-opacity="0.75"/><rect x="443.02" y="86.25" width="2.16" height="1.20" fill="#959595" fill-opacity="1.0"/><rect x="442.62" y="87.60" width="2.16" height="1.20" fill="#959595" fill-opacity="0.9"/><rect x="442.94" y="89.05" width="1.92" height="1.40" fill="#959595" fill-opacity="0.6"/><rect x="442.62" y="90.60" width="2.16" height="0.70" fill="#959595" fill-opacity="0.9"/>
<rect x="443.05" y="92.20" width="1.7" height="1.1" fill="#9a9a9a"/>
<rect x="445.72" y="73.80" width="2.16" height="1.40" fill="#959595" fill-opacity="0.6"/><rect x="445.84" y="75.55" width="1.92" height="1.20" fill="#959595" fill-opacity="0.9"/><rect x="445.84" y="77.00" width="1.92" height="0.80" fill="#959595" fill-opacity="0.75"/><rect x="445.72" y="78.05" width="2.16" height="1.40" fill="#959595" fill-opacity="0.9"/><rect x="445.84" y="79.80" width="1.92" height="0.80" fill="#959595" fill-opacity="1.0"/><rect x="446.12" y="80.95" width="2.16" height="0.80" fill="#959595" fill-opacity="0.75"/><rect x="446.04" y="82.10" width="1.92" height="0.80" fill="#959595" fill-opacity="0.75"/><rect x="445.60" y="83.05" width="2.40" height="0.55" fill="#959595" fill-opacity="1.0"/>
<rect x="446.00" y="84.80" width="2.40" height="1.40" fill="#959595" fill-opacity="0.75"/><rect x="445.92" y="86.45" width="2.16" height="1.40" fill="#959595" fill-opacity="0.75"/><rect x="445.80" y="88.00" width="2.40" height="0.80" fill="#959595" fill-opacity="0.75"/><rect x="445.60" y="89.15" width="2.40" height="1.00" fill="#959595" fill-opacity="0.6"/><rect x="445.84" y="90.50" width="1.92" height="1.40" fill="#959595" fill-opacity="0.9"/><rect x="446.04" y="92.25" width="1.92" height="0.80" fill="#959595" fill-opacity="0.6"/>
<rect x="446.15" y="94.70" width="1.7" height="1.1" fill="#9a9a9a"/>
<rect x="448.70" y="73.80" width="2.40" height="1.00" fill="#959595" fill-opacity="0.6"/><rect x="448.74" y="75.15" width="1.92" height="1.20" fill="#959595" fill-opacity="1.0"/><rect x="449.02" y="76.60" width="2.16" height="1.20" fill="#959595" fill-opacity="1.0"/><rect x="448.50" y="78.15" width="2.40" height="1.00" fill="#959595" fill-opacity="1.0"/><rect x="448.74" y="79.40" width="1.92" height="1.20" fill="#959595" fill-opacity="0.9"/><rect x="448.94" y="80.85" width="1.92" height="1.00" fill="#959595" fill-opacity="0.6"/><rect x="448.50" y="82.20" width="2.40" height="1.20" fill="#959595" fill-opacity="0.9"/>
<rect x="449.14" y="84.80" width="1.92" height="0.80" fill="#959595" fill-opacity="0.6"/><rect x="448.74" y="85.95" width="1.92" height="1.20" fill="#959595" fill-opacity="0.9"/><rect x="448.94" y="87.30" width="1.92" height="1.40" fill="#959595" fill-opacity="0.6"/><rect x="448.74" y="88.95" width="1.92" height="0.80" fill="#959595" fill-opacity="0.75"/><rect x="448.94" y="90.00" width="1.92" height="0.80" fill="#959595" fill-opacity="0.9"/><rect x="449.02" y="91.05" width="2.16" height="1.00" fill="#959595" fill-opacity="0.75"/><rect x="449.14" y="92.30" width="1.92" height="1.00" fill="#959595" fill-opacity="0.9"/>
<rect x="449.05" y="94.70" width="1.7" height="1.1" fill="#9a9a9a"/>
<rect x="451.84" y="80.20" width="1.92" height="0.80" fill="#959595" fill-opacity="0.75"/><rect x="451.40" y="81.25" width="2.40" height="0.80" fill="#959595" fill-opacity="0.75"/><rect x="452.04" y="82.20" width="1.92" height="1.40" fill="#959595" fill-opacity="0.9"/><rect x="451.64" y="83.85" width="1.92" height="1.20" fill="#959595" fill-opacity="0.6"/><rect x="451.84" y="85.40" width="1.92" height="1.40" fill="#959595" fill-opacity="0.9"/><rect x="451.52" y="86.95" width="2.16" height="0.45" fill="#959595" fill-opacity="1.0"/>
<rect x="451.95" y="88.90" width="1.7" height="1.1" fill="#9a9a9a"/>
<rect x="454.94" y="73.80" width="1.92" height="1.40" fill="#959595" fill-opacity="1.0"/><rect x="454.74" y="75.35" width="1.92" height="1.40" fill="#959595" fill-opacity="1.0"/><rect x="454.74" y="77.00" width="1.92" height="1.40" fill="#959595" fill-opacity="0.6"/><rect x="454.82" y="78.55" width="2.16" height="1.20" fill="#959595" fill-opacity="0.9"/><rect x="455.14" y="79.90" width="1.92" height="1.20" fill="#959595" fill-opacity="0.6"/><rect x="454.90" y="81.25" width="2.40" height="1.40" fill="#959595" fill-opacity="0.75"/><rect x="455.02" y="82.90" width="2.16" height="0.70" fill="#959595" fill-opacity="0.6"/>
<rect x="454.70" y="84.80" width="2.40" height="1.00" fill="#959595" fill-opacity="0.75"/><rect x="454.82" y="85.95" width="2.16" height="0.80" fill="#959595" fill-opacity="0.6"/><rect x="454.94" y="87.00" width="1.92" height="1.40" fill="#959595" fill-opacity="0.75"/><rect x="454.94" y="88.75" width="1.92" height="1.20" fill="#959595" fill-opacity="0.6"/><rect x="455.14" y="90.30" width="1.92" height="1.20" fill="#959595" fill-opacity="0.6"/><rect x="455.14" y="91.75" width="1.92" height="1.40" fill="#959595" fill-opacity="0.9"/>
<rect x="455.05" y="94.70" width="1.7" height="1.1" fill="#9a9a9a"/>
<rect x="458.00" y="80.20" width="2.40" height="0.80" fill="#959595" fill-opacity="1.0"/><rect x="458.00" y="81.15" width="2.40" height="1.00" fill="#959595" fill-opacity="1.0"/><rect x="457.92" y="82.30" width="2.16" height="1.20" fill="#959595" fill-opacity="0.75"/><rect x="458.00" y="83.85" width="2.40" height="0.80" fill="#959595" fill-opacity="0.9"/><rect x="457.80" y="84.80" width="2.40" height="1.00" fill="#959595" fill-opacity="0.6"/><rect x="457.84" y="86.15" width="1.92" height="0.80" fill="#959595" fill-opacity="1.0"/>
<rect x="458.15" y="88.90" width="1.7" height="1.1" fill="#9a9a9a"/>
<rect x="461.34" y="73.80" width="1.92" height="1.40" fill="#959595" fill-opacity="0.75"/><rect x="461.34" y="75.55" width="1.92" height="1.20" fill="#959595" fill-opacity="0.75"/><rect x="461.22" y="76.90" width="2.16" height="1.00" fill="#959595" fill-opacity="0.6"/><rect x="461.42" y="78.05" width="2.16" height="0.80" fill="#959595" fill-opacity="1.0"/><rect x="460.90" y="79.20" width="2.40" height="1.40" fill="#959595" fill-opacity="0.75"/><rect x="461.22" y="80.75" width="2.16" height="1.40" fill="#959595" fill-opacity="0.75"/><rect x="461.34" y="82.40" width="1.92" height="1.00" fill="#959595" fill-opacity="0.9"/>
<rect x="461.30" y="84.80" width="2.40" height="1.20" fill="#959595" fill-opacity="1.0"/><rect x="461.14" y="86.15" width="1.92" height="1.20" fill="#959595" fill-opacity="0.75"/><rect x="461.42" y="87.50" width="2.16" height="1.20" fill="#959595" fill-opacity="1.0"/><rect x="461.02" y="89.05" width="2.16" height="1.40" fill="#959595" fill-opacity="0.75"/><rect x="461.02" y="90.80" width="2.16" height="0.80" fill="#959595" fill-opacity="0.9"/><rect x="461.14" y="91.75" width="1.92" height="1.00" fill="#959595" fill-opacity="0.9"/><rect x="461.54" y="92.90" width="1.92" height="0.40" fill="#959595" fill-opacity="0.75"/>
<rect x="461.45" y="94.70" width="1.7" height="1.1" fill="#9a9a9a"/>
<rect x="464.20" y="80.20" width="2.40" height="1.40" fill="#959595" fill-opacity="0.9"/><rect x="464.00" y="81.75" width="2.40" height="1.00" fill="#959595" fill-opacity="0.9"/><rect x="464.04" y="82.90" width="1.92" height="0.80" fill="#959595" fill-opacity="1.0"/><rect x="464.04" y="83.95" width="1.92" height="0.80" fill="#959595" fill-opacity="0.9"/><rect x="464.32" y="85.00" width="2.16" height="0.80" fill="#959595" fill-opacity="1.0"/><rect x="464.24" y="86.15" width="1.92" height="0.80" fill="#959595" fill-opacity="1.0"/>
<rect x="464.35" y="88.90" width="1.7" height="1.1" fill="#9a9a9a"/>
<rect x="467.12" y="80.20" width="2.16" height="1.20" fill="#959595" fill-opacity="0.75"/><rect x="467.64" y="81.75" width="1.92" height="1.20" fill="#959595" fill-opacity="1.0"/><rect x="467.52" y="83.20" width="2.16" height="1.00" fill="#959595" fill-opacity="1.0"/><rect x="467.40" y="84.45" width="2.40" height="0.80" fill="#959595" fill-opacity="0.6"/><rect x="467.44" y="85.50" width="1.92" height="1.00" fill="#959595" fill-opacity="0.9"/><rect x="467.32" y="86.75" width="2.16" height="0.65" fill="#959595" fill-opacity="0.75"/>
<rect x="467.55" y="88.90" width="1.7" height="1.1" fill="#9a9a9a"/>
<rect x="470.74" y="80.20" width="1.92" height="1.40" fill="#959595" fill-opacity="0.6"/><rect x="470.10" y="81.85" width="2.40" height="1.40" fill="#959595" fill-opacity="0.75"/><rect x="470.30" y="83.50" width="2.40" height="1.20" fill="#959595" fill-opacity="1.0"/><rect x="470.10" y="84.95" width="2.40" height="1.00" fill="#959595" fill-opacity="0.75"/><rect x="470.10" y="86.20" width="2.40" height="0.80" fill="#959595" fill-opacity="0.6"/>
<rect x="470.65" y="88.90" width="1.7" height="1.1" fill="#9a9a9a"/>
<rect x="473.52" y="80.20" width="2.16" height="1.40" fill="#959595" fill-opacity="0.6"/><rect x="473.52" y="81.85" width="2.16" height="1.20" fill="#959595" fill-opacity="0.9"/><rect x="473.52" y="83.30" width="2.16" height="1.20" fill="#959595" fill-opacity="0.75"/><rect x="473.12" y="84.65" width="2.16" height="1.00" fill="#959595" fill-opacity="1.0"/><rect x="473.00" y="86.00" width="2.40" height="1.20" fill="#959595" fill-opacity="0.75"/>
<rect x="473.55" y="88.90" width="1.7" height="1.1" fill="#9a9a9a"/>
<rect x="477.02" y="73.80" width="2.16" height="1.00" fill="#959595" fill-opacity="0.9"/><rect x="476.70" y="75.05" width="2.40" height="1.00" fill="#959595" fill-opacity="0.6"/><rect x="477.14" y="76.40" width="1.92" height="0.80" fill="#959595" fill-opacity="0.75"/><rect x="476.74" y="77.55" width="1.92" height="1.40" fill="#959595" fill-opacity="0.9"/><rect x="476.50" y="79.10" width="2.40" height="1.00" fill="#959595" fill-opacity="0.6"/><rect x="476.94" y="80.25" width="1.92" height="1.00" fill="#959595" fill-opacity="0.75"/><rect x="476.74" y="81.60" width="1.92" height="1.00" fill="#959595" fill-opacity="0.6"/><rect x="476.94" y="82.75" width="1.92" height="0.80" fill="#959595" fill-opacity="0.75"/>
<rect x="476.82" y="84.80" width="2.16" height="0.80" fill="#959595" fill-opacity="0.9"/><rect x="476.62" y="85.85" width="2.16" height="1.40" fill="#959595" fill-opacity="0.9"/><rect x="476.62" y="87.40" width="2.16" height="1.20" fill="#959595" fill-opacity="0.75"/><rect x="477.14" y="88.75" width="1.92" height="0.80" fill="#959595" fill-opacity="0.9"/><rect x="476.74" y="89.80" width="1.92" height="1.20" fill="#959595" fill-opacity="1.0"/><rect x="476.70" y="91.35" width="2.40" height="0.80" fill="#959595" fill-opacity="0.75"/><rect x="476.94" y="92.40" width="1.92" height="0.90" fill="#959595" fill-opacity="0.6"/>
<rect x="477.05" y="94.70" width="1.7" height="1.1" fill="#9a9a9a"/>
<rect x="480.04" y="77.50" width="1.92" height="1.40" fill="#959595" fill-opacity="0.6"/><rect x="479.52" y="79.05" width="2.16" height="1.00" fill="#959595" fill-opacity="1.0"/><rect x="479.60" y="80.40" width="2.40" height="0.80" fill="#959595" fill-opacity="1.0"/><rect x="479.40" y="81.35" width="2.40" height="0.80" fill="#959595" fill-opacity="0.75"/><rect x="479.92" y="82.30" width="2.16" height="1.40" fill="#959595" fill-opacity="0.75"/><rect x="479.64" y="83.95" width="1.92" height="0.25" fill="#959595" fill-opacity="0.6"/>
<rect x="479.60" y="85.30" width="2.40" height="0.80" fill="#959595" fill-opacity="0.75"/><rect x="479.64" y="86.25" width="1.92" height="1.40" fill="#959595" fill-opacity="0.75"/><rect x="479.64" y="87.90" width="1.92" height="1.20" fill="#959595" fill-opacity="0.75"/><rect x="479.80" y="89.25" width="2.40" height="1.40" fill="#959595" fill-opacity="0.9"/><rect x="479.92" y="91.00" width="2.16" height="0.30" fill="#959595" fill-opacity="1.0"/>
<rect x="479.95" y="92.20" width="1.7" height="1.1" fill="#9a9a9a"/>
<rect x="482.80" y="73.80" width="2.40" height="1.20" fill="#959595" fill-opacity="0.6"/><rect x="483.12" y="75.15" width="2.16" height="1.20" fill="#959595" fill-opacity="0.6"/><rect x="482.60" y="76.50" width="2.40" height="1.00" fill="#959595" fill-opacity="0.75"/><rect x="482.72" y="77.75" width="2.16" height="0.80" fill="#959595" fill-opacity="0.75"/><rect x="482.80" y="78.90" width="2.40" height="1.20" fill="#959595" fill-opacity="1.0"/><rect x="482.80" y="80.25" width="2.40" height="0.80" fill="#959595" fill-opacity="0.6"/><rect x="483.12" y="81.30" width="2.16" height="1.40" fill="#959595" fill-opacity="0.6"/><rect x="482.92" y="83.05" width="2.16" height="0.55" fill="#959595" fill-opacity="1.0"/>
<rect x="482.80" y="84.80" width="2.40" height="1.40" fill="#959595" fill-opacity="0.9"/><rect x="483.04" y="86.55" width="1.92" height="1.20" fill="#959595" fill-opacity="0.6"/><rect x="483.24" y="87.90" width="1.92" height="1.20" fill="#959595" fill-opacity="0.75"/><rect x="483.00" y="89.25" width="2.40" height="0.80" fill="#959595" fill-opacity="1.0"/><rect x="482.80" y="90.20" width="2.40" height="1.20" fill="#959595" fill-opacity="0.6"/><rect x="483.12" y="91.65" width="2.16" height="0.80" fill="#959595" fill-opacity="0.75"/><rect x="483.12" y="92.60" width="2.16" height="0.70" fill="#959595" fill-opacity="0.6"/>
<rect x="483.15" y="94.70" width="1.7" height="1.1" fill="#9a9a9a"/>
<rect x="485.92" y="80.20" width="2.16" height="0.80" fill="#959595" fill-opacity="0.6"/><rect x="486.04" y="81.35" width="1.92" height="1.40" fill="#959595" fill-opacity="0.75"/><rect x="485.92" y="83.00" width="2.16" height="1.40" fill="#959595" fill-opacity="0.9"/><rect x="486.24" y="84.55" width="1.92" height="1.40" fill="#959595" fill-opacity="0.6"/><rect x="486.04" y="86.30" width="1.92" height="1.10" fill="#959595" fill-opacity="1.0"/>
<rect x="486.35" y="88.90" width="1.7" height="1.1" fill="#9a9a9a"/>
<rect x="489.22" y="80.20" width="2.16" height="1.20" fill="#959595" fill-opacity="1.0"/><rect x="488.82" y="81.55" width="2.16" height="1.00" fill="#959595" fill-opacity="0.75"/><rect x="489.14" y="82.90" width="1.92" height="1.20" fill="#959595" fill-opacity="0.75"/><rect x="488.90" y="84.45" width="2.40" height="1.40" fill="#959595" fill-opacity="0.75"/><rect x="488.70" y="86.10" width="2.40" height="1.00" fill="#959595" fill-opacity="0.9"/>
<rect x="489.25" y="88.90" width="1.7" height="1.1" fill="#9a9a9a"/>
<rect x="492.14" y="80.20" width="1.92" height="1.40" fill="#959595" fill-opacity="0.6"/><rect x="492.42" y="81.95" width="2.16" height="1.20" fill="#959595" fill-opacity="0.6"/><rect x="492.34" y="83.30" width="1.92" height="0.80" fill="#959595" fill-opacity="0.9"/><rect x="492.42" y="84.35" width="2.16" height="1.20" fill="#959595" fill-opacity="0.9"/><rect x="492.02" y="85.80" width="2.16" height="1.40" fill="#959595" fill-opacity="1.0"/>
<rect x="492.45" y="88.90" width="1.7" height="1.1" fill="#9a9a9a"/>
<rect x="495.20" y="80.20" width="2.40" height="0.80" fill="#959595" fill-opacity="1.0"/><rect x="495.24" y="81.15" width="1.92" height="0.80" fill="#959595" fill-opacity="0.75"/><rect x="495.12" y="82.20" width="2.16" height="1.20" fill="#959595" fill-opacity="1.0"/><rect x="494.80" y="83.55" width="2.40" height="1.00" fill="#959595" fill-opacity="0.9"/><rect x="495.44" y="84.80" width="1.92" height="1.00" fill="#959595" fill-opacity="0.9"/><rect x="495.12" y="86.15" width="2.16" height="0.80" fill="#959595" fill-opacity="1.0"/><rect x="494.92" y="87.20" width="2.16" height="0.20" fill="#959595" fill-opacity="0.9"/>
<rect x="495.35" y="88.90" width="1.7" height="1.1" fill="#9a9a9a"/>
<rect x="497.92" y="80.20" width="2.16" height="0.80" fill="#959595" fill-opacity="0.6"/><rect x="498.44" y="81.15" width="1.92" height="1.00" fill="#959595" fill-opacity="0.9"/><rect x="498.24" y="82.30" width="1.92" height="1.40" fill="#959595" fill-opacity="0.6"/><rect x="498.12" y="84.05" width="2.16" height="1.40" fill="#959595" fill-opacity="0.9"/><rect x="498.32" y="85.70" width="2.16" height="1.40" fill="#959595" fill-opacity="0.9"/>
<rect x="498.35" y="88.90" width="1.7" height="1.1" fill="#9a9a9a"/>
<rect x="501.50" y="80.20" width="2.40" height="1.20" fill="#959595" fill-opacity="0.6"/><rect x="501.42" y="81.75" width="2.16" height="0.80" fill="#959595" fill-opacity="1.0"/><rect x="501.54" y="82.70" width="1.92" height="1.00" fill="#959595" fill-opacity="0.75"/><rect x="501.50" y="84.05" width="2.40" height="1.20" fill="#959595" fill-opacity="0.6"/><rect x="501.74" y="85.40" width="1.92" height="1.40" fill="#959595" fill-opacity="1.0"/><rect x="501.74" y="86.95" width="1.92" height="0.45" fill="#959595" fill-opacity="0.6"/>
<rect x="501.65" y="88.90" width="1.7" height="1.1" fill="#9a9a9a"/>
<rect x="504.74" y="80.20" width="1.92" height="1.20" fill="#959595" fill-opacity="0.6"/><rect x="504.62" y="81.75" width="2.16" height="0.80" fill="#959595" fill-opacity="0.75"/><rect x="504.50" y="82.80" width="2.40" height="1.00" fill="#959595" fill-opacity="1.0"/><rect x="504.42" y="83.95" width="2.16" height="1.40" fill="#959595" fill-opacity="0.75"/><rect x="504.50" y="85.60" width="2.40" height="1.00" fill="#959595" fill-opacity="1.0"/><rect x="504.10" y="86.75" width="2.40" height="0.65" fill="#959595" fill-opacity="1.0"/>
<rect x="504.65" y="88.90" width="1.7" height="1.1" fill="#9a9a9a"/>
<rect x="507.30" y="80.20" width="2.40" height="0.80" fill="#959595" fill-opacity="0.6"/><rect x="507.10" y="81.15" width="2.40" height="0.80" fill="#959595" fill-opacity="0.75"/><rect x="507.74" y="82.30" width="1.92" height="1.00" fill="#959595" fill-opacity="1.0"/><rect x="507.30" y="83.45" width="2.40" height="1.00" fill="#959595" fill-opacity="0.75"/><rect x="507.50" y="84.60" width="2.40" height="1.40" fill="#959595" fill-opacity="0.75"/><rect x="507.22" y="86.25" width="2.16" height="1.15" fill="#959595" fill-opacity="0.75"/>
<rect x="507.65" y="88.90" width="1.7" height="1.1" fill="#9a9a9a"/>
<rect x="445.9" y="8.35" width="62.8" height="35.95" fill="#fff" stroke="#3a3a3a" stroke-width="1.0"/>
<text x="449.4" y="14.3" font-size="5.2" fill="#3a3a3a" textLength="42.4" lengthAdjust="spacingAndGlyphs">Red: CEBPAsm</text>
<text x="449.4" y="19.3" font-size="5.2" fill="#3a3a3a" textLength="46.4" lengthAdjust="spacingAndGlyphs">Black: CEBPAdm</text>
<ellipse cx="450.25" cy="23.45" rx="1.95" ry="1.3" fill="#111"/>
<text x="454.1" y="24.8" font-size="4.9" fill="#333" textLength="31" lengthAdjust="spacingAndGlyphs">: frame-shift</text>
<ellipse cx="450.3" cy="28.8" rx="1.9" ry="1.8" fill="none" stroke="#222" stroke-width="0.75"/>
<text x="454.1" y="30.2" font-size="4.9" fill="#333" textLength="29" lengthAdjust="spacingAndGlyphs">: nonsense</text>
<path d="M448.2,36.0 L450.3,32.3 L452.4,36.0Z" fill="#111"/>
<text x="454.1" y="35.6" font-size="4.9" fill="#333" textLength="48.4" lengthAdjust="spacingAndGlyphs">: insertion/deletion</text>
<path d="M448.3,41.1 L450.4,37.5 L452.5,41.1Z" fill="none" stroke="#222" stroke-width="0.7"/>
<text x="454.1" y="40.8" font-size="4.9" fill="#333" textLength="27" lengthAdjust="spacingAndGlyphs">: missense</text>
<rect x="123" y="116.5" width="36.5" height="22" fill="#bdbdc1"/>
<rect x="197.3" y="116.5" width="97.5" height="22" fill="#bdbdc1"/>
<rect x="388" y="116.5" width="114.2" height="22" fill="#bdbdc1"/>
<line x1="31.5" y1="116.5" x2="502.5" y2="116.5" stroke="#2a2a2a" stroke-width="1.1"/>
<line x1="31.5" y1="138.8" x2="502.5" y2="138.8" stroke="#444" stroke-width="1.6"/>
<line x1="31.6" y1="116" x2="31.6" y2="147.8" stroke="#333" stroke-width="1.1"/>
<line x1="123.0" y1="116" x2="123.0" y2="147.8" stroke="#333" stroke-width="1.1"/>
<line x1="159.5" y1="116" x2="159.5" y2="147.8" stroke="#333" stroke-width="1.1"/>
<line x1="197.3" y1="116" x2="197.3" y2="147.8" stroke="#333" stroke-width="1.1"/>
<line x1="294.8" y1="116" x2="294.8" y2="147.8" stroke="#333" stroke-width="1.1"/>
<line x1="388.0" y1="116" x2="388.0" y2="147.8" stroke="#333" stroke-width="1.1"/>
<line x1="502.2" y1="116" x2="502.2" y2="147.8" stroke="#333" stroke-width="1.1"/>
<line x1="194.5" y1="116.5" x2="194.5" y2="159" stroke="#333" stroke-width="1.3" stroke-dasharray="1.3,1.45"/>
<line x1="31.6" y1="150.2" x2="31.6" y2="159" stroke="#333" stroke-width="1.3" stroke-dasharray="1.3,1.45"/>
<text x="140.8" y="131" font-size="9.2" fill="#333" text-anchor="middle" textLength="20.7" lengthAdjust="spacingAndGlyphs">TAD1</text>
<text x="245.8" y="130.7" font-size="9.2" fill="#333" text-anchor="middle" textLength="21.5" lengthAdjust="spacingAndGlyphs">TAD2</text>
<text x="445.4" y="131.1" font-size="9.2" fill="#333" text-anchor="middle" textLength="21.2" lengthAdjust="spacingAndGlyphs">b-ZIP</text>
<text x="34.3" y="146.2" font-size="7.7" fill="#333">1</text>
<text x="125.3" y="146.2" font-size="7.7" fill="#333" textLength="8.3" lengthAdjust="spacingAndGlyphs">70</text>
<text x="161.8" y="146.2" font-size="7.7" fill="#333" textLength="8.3" lengthAdjust="spacingAndGlyphs">97</text>
<text x="199.5" y="146.2" font-size="7.7" fill="#333" textLength="12.9" lengthAdjust="spacingAndGlyphs">127</text>
<text x="296.5" y="146.2" font-size="7.7" fill="#333" textLength="12.8" lengthAdjust="spacingAndGlyphs">200</text>
<text x="390.5" y="146.2" font-size="7.7" fill="#333" textLength="12.8" lengthAdjust="spacingAndGlyphs">272</text>
<text x="487.4" y="146.2" font-size="7.7" fill="#333" textLength="13.3" lengthAdjust="spacingAndGlyphs">358</text>
<text x="33.7" y="157.1" font-size="7.5" fill="#333" textLength="30.3" lengthAdjust="spacingAndGlyphs">p42 start</text>
<text x="195.8" y="157.2" font-size="7.5" fill="#333" textLength="30.5" lengthAdjust="spacingAndGlyphs">p30 start</text>
<path d="M80.65,188.25 A46.75,46.75 0 0 1 127.39,234.09 L104.65,234.53 A24.0,24.0 0 0 0 80.65,211.00Z" fill="#c8102e" stroke="#fff" stroke-width="0.6"/>
<path d="M127.39,234.09 A46.75,46.75 0 0 1 115.87,265.74 L98.73,250.78 A24.0,24.0 0 0 0 104.65,234.53Z" fill="#175284" stroke="#fff" stroke-width="0.6"/>
<path d="M115.87,265.74 A46.75,46.75 0 1 1 64.66,191.07 L72.44,212.45 A24.0,24.0 0 1 0 98.73,250.78Z" fill="#3bb449" stroke="#fff" stroke-width="0.6"/>
<path d="M64.66,191.07 A46.75,46.75 0 0 1 75.22,188.57 L77.86,211.16 A24.0,24.0 0 0 0 72.44,212.45Z" fill="#4e2a7e" stroke="#fff" stroke-width="0.6"/>
<path d="M75.22,188.57 A46.75,46.75 0 0 1 80.65,188.25 L80.65,211.00 A24.0,24.0 0 0 0 77.86,211.16Z" fill="#f7941d" stroke="#fff" stroke-width="0.6"/>
<path d="M80.65,170.00 A65.0,65.0 0 0 1 136.94,202.50 L121.96,211.15 A47.7,47.7 0 0 0 80.65,187.30Z" fill="#0a654c" stroke="#fff" stroke-width="0.6"/>
<path d="M136.94,202.50 A65.0,65.0 0 0 1 145.64,233.74 L128.34,234.08 A47.7,47.7 0 0 0 121.96,211.15Z" fill="#8c84c8" stroke="#fff" stroke-width="0.6"/>
<path d="M145.64,233.74 A65.0,65.0 0 0 1 131.24,275.81 L117.78,264.95 A47.7,47.7 0 0 0 128.34,234.08Z" fill="#0a654c" stroke="#fff" stroke-width="0.6"/>
<path d="M131.24,275.81 A65.0,65.0 0 0 1 129.62,277.74 L116.59,266.36 A47.7,47.7 0 0 0 117.78,264.95Z" fill="#8c84c8" stroke="#fff" stroke-width="0.6"/>
<path d="M129.62,277.74 A65.0,65.0 0 1 1 49.25,178.09 L57.61,193.24 A47.7,47.7 0 1 0 116.59,266.36Z" fill="#0a654c" stroke="#fff" stroke-width="0.6"/>
<path d="M49.25,178.09 A65.0,65.0 0 0 1 58.42,173.92 L64.34,190.18 A47.7,47.7 0 0 0 57.61,193.24Z" fill="#8c84c8" stroke="#fff" stroke-width="0.6"/>
<path d="M58.42,173.92 A65.0,65.0 0 0 1 70.61,170.78 L73.28,187.87 A47.7,47.7 0 0 0 64.34,190.18Z" fill="#0a654c" stroke="#fff" stroke-width="0.6"/>
<path d="M70.61,170.78 A65.0,65.0 0 0 1 73.10,170.44 L75.11,187.62 A47.7,47.7 0 0 0 73.28,187.87Z" fill="#fff" stroke="#fff" stroke-width="0.6"/>
<path d="M73.10,170.44 A65.0,65.0 0 0 1 80.65,170.00 L80.65,187.30 A47.7,47.7 0 0 0 75.11,187.62Z" fill="#0a654c" stroke="#fff" stroke-width="0.6"/>
<circle cx="80.65" cy="234.85" r="24.3" fill="#fff" stroke="#333" stroke-width="1.0"/>
<text x="80.7" y="228.1" font-size="7.1" fill="#222" text-anchor="middle" textLength="28.4" lengthAdjust="spacingAndGlyphs" stroke="#222" stroke-width="0.18">AML with</text>
<text x="80.85" y="236.5" font-size="7.1" fill="#222" stroke="#222" stroke-width="0.18" text-anchor="middle" textLength="33.3" lengthAdjust="spacingAndGlyphs"><tspan font-style="italic">CEBPA</tspan>mu</text>
<text x="80.65" y="245" font-size="7.1" fill="#222" text-anchor="middle" textLength="25.7" lengthAdjust="spacingAndGlyphs" stroke="#222" stroke-width="0.18">(n=162)</text>
<rect x="153.1" y="185.95" width="3.0" height="3.0" fill="#c8102e"/>
<text x="160" y="189.5" font-size="7.9" fill="#333" textLength="70.8" lengthAdjust="spacingAndGlyphs"><tspan font-style="italic">CEBPA</tspan>sm out-of bZIP</text>
<rect x="153.1" y="196.72" width="3.0" height="3.0" fill="#175284"/>
<text x="160" y="200.27" font-size="7.9" fill="#333" textLength="57.9" lengthAdjust="spacingAndGlyphs"><tspan font-style="italic">CEBPA</tspan>sm in bZIP</text>
<rect x="153.1" y="207.49" width="3.0" height="3.0" fill="#3bb449"/>
<text x="160" y="211.04" font-size="7.9" fill="#333" textLength="100.4" lengthAdjust="spacingAndGlyphs"><tspan font-style="italic">CEBPA</tspan>dm out-of bZIP x in bZIP</text>
<rect x="153.1" y="218.26" width="3.0" height="3.0" fill="#4e2a7e"/>
<text x="160" y="221.81" font-size="7.9" fill="#333" textLength="112.5" lengthAdjust="spacingAndGlyphs"><tspan font-style="italic">CEBPA</tspan>dm out-of bZIP x out-of bZIP</text>
<rect x="153.1" y="229.03" width="3.0" height="3.0" fill="#f7941d"/>
<text x="160" y="232.58" font-size="7.9" fill="#333" textLength="87.5" lengthAdjust="spacingAndGlyphs"><tspan font-style="italic">CEBPA</tspan>dm in bZIP x in bZIP</text>
<rect x="153.1" y="239.80" width="3.0" height="3.0" fill="#0a654c"/>
<text x="160" y="243.35" font-size="7.9" fill="#333" textLength="54.5" lengthAdjust="spacingAndGlyphs"><tspan font-style="italic">FLT3</tspan>-ITD negative</text>
<rect x="153.1" y="250.57" width="3.0" height="3.0" fill="#8c84c8"/>
<text x="160" y="254.12" font-size="7.9" fill="#333" textLength="52.5" lengthAdjust="spacingAndGlyphs"><tspan font-style="italic">FLT3</tspan>-ITD positive</text>
<line x1="289.5" y1="177.3" x2="289.5" y2="277" stroke="#444" stroke-width="1.1"/>
<line x1="396" y1="177.3" x2="396" y2="277" stroke="#444" stroke-width="1.1"/>
<line x1="412.7" y1="177.3" x2="412.7" y2="277" stroke="#444" stroke-width="1.1"/>
<line x1="490.8" y1="177.3" x2="490.8" y2="277" stroke="#444" stroke-width="1.1"/>
<line x1="509" y1="177.3" x2="509" y2="277" stroke="#444" stroke-width="1.1"/>
<line x1="289.5" y1="177.3" x2="509" y2="177.3" stroke="#444" stroke-width="1.1"/>
<line x1="289.5" y1="197.2" x2="509" y2="197.2" stroke="#444" stroke-width="1.1"/>
<line x1="289.5" y1="217.2" x2="509" y2="217.2" stroke="#444" stroke-width="1.1"/>
<line x1="289.5" y1="237.2" x2="509" y2="237.2" stroke="#444" stroke-width="1.1"/>
<line x1="289.5" y1="257.2" x2="509" y2="257.2" stroke="#444" stroke-width="1.1"/>
<line x1="289.5" y1="277" x2="509" y2="277" stroke="#444" stroke-width="1.1"/>
<line x1="412.7" y1="187.25" x2="509" y2="187.25" stroke="#444" stroke-width="1"/>
<line x1="412.7" y1="207.20" x2="509" y2="207.20" stroke="#444" stroke-width="1"/>
<line x1="412.7" y1="227.20" x2="509" y2="227.20" stroke="#444" stroke-width="1"/>
<line x1="412.7" y1="247.20" x2="509" y2="247.20" stroke="#444" stroke-width="1"/>
<line x1="412.7" y1="267.10" x2="509" y2="267.10" stroke="#444" stroke-width="1"/>
<text x="342.7" y="190.15" font-size="8.4" fill="#2a2a2a" text-anchor="middle" textLength="75.6" lengthAdjust="spacingAndGlyphs" stroke="#2a2a2a" stroke-width="0.15">CEBPAsm out-of bZIP</text>
<text x="404.3" y="190.0" font-size="8.9" fill="#2a2a2a" text-anchor="middle" textLength="9.0" lengthAdjust="spacingAndGlyphs">40</text>
<text x="451.6" y="185.00" font-size="8.2" fill="#2a2a2a" stroke="#2a2a2a" stroke-width="0.1" text-anchor="middle" textLength="58.2" lengthAdjust="spacingAndGlyphs"><tspan font-style="italic">FLT3</tspan>-ITD negative</text>
<text x="500" y="185.15" font-size="8.9" fill="#2a2a2a" text-anchor="middle" textLength="9.0" lengthAdjust="spacingAndGlyphs">27</text>
<text x="451.6" y="195.00" font-size="8.2" fill="#2a2a2a" stroke="#2a2a2a" stroke-width="0.1" text-anchor="middle" textLength="54.7" lengthAdjust="spacingAndGlyphs"><tspan font-style="italic">FLT3</tspan>-ITD positive</text>
<text x="500" y="195.15" font-size="8.9" fill="#2a2a2a" text-anchor="middle" textLength="9.0" lengthAdjust="spacingAndGlyphs">13</text>
<text x="342.7" y="210.1" font-size="8.4" fill="#2a2a2a" text-anchor="middle" textLength="61.9" lengthAdjust="spacingAndGlyphs" stroke="#2a2a2a" stroke-width="0.15">CEBPAsm in bZIP</text>
<text x="404.3" y="209.95" font-size="8.9" fill="#2a2a2a" text-anchor="middle" textLength="9.0" lengthAdjust="spacingAndGlyphs">19</text>
<text x="451.6" y="204.90" font-size="8.2" fill="#2a2a2a" stroke="#2a2a2a" stroke-width="0.1" text-anchor="middle" textLength="58.2" lengthAdjust="spacingAndGlyphs"><tspan font-style="italic">FLT3</tspan>-ITD negative</text>
<text x="500" y="205.05" font-size="8.9" fill="#2a2a2a" text-anchor="middle" textLength="9.0" lengthAdjust="spacingAndGlyphs">18</text>
<text x="451.6" y="214.90" font-size="8.2" fill="#2a2a2a" stroke="#2a2a2a" stroke-width="0.1" text-anchor="middle" textLength="54.7" lengthAdjust="spacingAndGlyphs"><tspan font-style="italic">FLT3</tspan>-ITD positive</text>
<text x="500" y="215.05" font-size="8.9" fill="#2a2a2a" text-anchor="middle" textLength="4.5" lengthAdjust="spacingAndGlyphs">1</text>
<text x="342.9" y="225.6" font-size="8.4" fill="#2a2a2a" text-anchor="middle" textLength="88.2" lengthAdjust="spacingAndGlyphs" stroke="#2a2a2a" stroke-width="0.15">CEBPAdm out-of bZIP x in</text>
<text x="343.4" y="234.3" font-size="8.4" fill="#2a2a2a" text-anchor="middle" textLength="18.3" lengthAdjust="spacingAndGlyphs" stroke="#2a2a2a" stroke-width="0.15">bZIP</text>
<text x="404.3" y="229.95" font-size="8.9" fill="#2a2a2a" text-anchor="middle" textLength="9.0" lengthAdjust="spacingAndGlyphs">94</text>
<text x="451.6" y="224.90" font-size="8.2" fill="#2a2a2a" stroke="#2a2a2a" stroke-width="0.1" text-anchor="middle" textLength="58.2" lengthAdjust="spacingAndGlyphs"><tspan font-style="italic">FLT3</tspan>-ITD negative</text>
<text x="500" y="225.05" font-size="8.9" fill="#2a2a2a" text-anchor="middle" textLength="9.0" lengthAdjust="spacingAndGlyphs">90</text>
<text x="451.6" y="234.90" font-size="8.2" fill="#2a2a2a" stroke="#2a2a2a" stroke-width="0.1" text-anchor="middle" textLength="54.7" lengthAdjust="spacingAndGlyphs"><tspan font-style="italic">FLT3</tspan>-ITD positive</text>
<text x="500" y="235.05" font-size="8.9" fill="#2a2a2a" text-anchor="middle" textLength="4.5" lengthAdjust="spacingAndGlyphs">4</text>
<text x="342.9" y="245.6" font-size="8.4" fill="#2a2a2a" text-anchor="middle" textLength="80.2" lengthAdjust="spacingAndGlyphs" stroke="#2a2a2a" stroke-width="0.15">CEBPAdm out-of bZIP x</text>
<text x="343.4" y="254.3" font-size="8.4" fill="#2a2a2a" text-anchor="middle" textLength="38.8" lengthAdjust="spacingAndGlyphs" stroke="#2a2a2a" stroke-width="0.15">out-of bZIP</text>
<text x="404.3" y="249.95" font-size="8.9" fill="#2a2a2a" text-anchor="middle" textLength="4.5" lengthAdjust="spacingAndGlyphs">6</text>
<text x="451.6" y="244.90" font-size="8.2" fill="#2a2a2a" stroke="#2a2a2a" stroke-width="0.1" text-anchor="middle" textLength="58.2" lengthAdjust="spacingAndGlyphs"><tspan font-style="italic">FLT3</tspan>-ITD negative</text>
<text x="500" y="245.05" font-size="8.9" fill="#2a2a2a" text-anchor="middle" textLength="4.5" lengthAdjust="spacingAndGlyphs">5</text>
<text x="451.6" y="254.90" font-size="8.2" fill="#2a2a2a" stroke="#2a2a2a" stroke-width="0.1" text-anchor="middle" textLength="54.7" lengthAdjust="spacingAndGlyphs"><tspan font-style="italic">FLT3</tspan>-ITD positive</text>
<text x="500" y="255.05" font-size="8.9" fill="#2a2a2a" text-anchor="middle" textLength="4.5" lengthAdjust="spacingAndGlyphs">1</text>
<text x="342.7" y="270.0" font-size="8.4" fill="#2a2a2a" text-anchor="middle" textLength="94.4" lengthAdjust="spacingAndGlyphs" stroke="#2a2a2a" stroke-width="0.15">CEBPAdm in bZIP x in bZIP</text>
<text x="404.3" y="269.85" font-size="8.9" fill="#2a2a2a" text-anchor="middle" textLength="4.5" lengthAdjust="spacingAndGlyphs">3</text>
<text x="451.6" y="264.90" font-size="8.2" fill="#2a2a2a" stroke="#2a2a2a" stroke-width="0.1" text-anchor="middle" textLength="58.2" lengthAdjust="spacingAndGlyphs"><tspan font-style="italic">FLT3</tspan>-ITD negative</text>
<text x="500" y="265.05" font-size="8.9" fill="#2a2a2a" text-anchor="middle" textLength="4.5" lengthAdjust="spacingAndGlyphs">3</text>
<text x="451.6" y="274.90" font-size="8.2" fill="#2a2a2a" stroke="#2a2a2a" stroke-width="0.1" text-anchor="middle" textLength="54.7" lengthAdjust="spacingAndGlyphs"><tspan font-style="italic">FLT3</tspan>-ITD positive</text>
<text x="500" y="275.05" font-size="8.9" fill="#2a2a2a" text-anchor="middle" textLength="4.5" lengthAdjust="spacingAndGlyphs">0</text>
<text x="6.4" y="15.6" font-size="11" fill="#111" font-weight="bold">A</text>
<text x="6.8" y="175.9" font-size="11" fill="#111" font-weight="bold">B</text>
<rect x="0.5" y="0.5" width="519" height="306" fill="none" stroke="#151515" stroke-width="1"/>
</svg>
</body></html>
